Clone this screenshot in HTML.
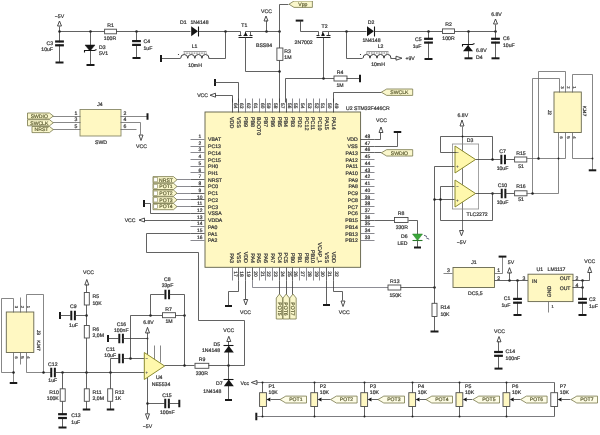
<!DOCTYPE html>
<html><head><meta charset="utf-8"><title>Schematic</title>
<style>html,body{margin:0;padding:0;background:#fff;}body{width:600px;height:435px;overflow:hidden;font-family:"Liberation Sans",sans-serif;}svg{display:block;opacity:0.999;will-change:transform;}</style>
</head><body>
<svg width="600" height="435" viewBox="0 0 600 435" font-family="'Liberation Sans', sans-serif" shape-rendering="geometricPrecision" text-rendering="geometricPrecision">
<rect width="600" height="435" fill="#fff"/>
<defs><filter id="bl" x="0" y="0" width="100%" height="100%" color-interpolation-filters="sRGB"><feGaussianBlur stdDeviation="0.35"/></filter></defs>
<g filter="url(#bl)">
<text x="59.50" y="17.85" font-size="5.15" fill="#3a3a3a" stroke="#3a3a3a" stroke-width="0.24" text-anchor="middle">−5V</text>
<polygon points="59.50,21.00 57.50,26.00 61.50,26.00" fill="#fff" stroke="#3a3a3a" stroke-width="0.9"/>
<line x1="59.50" y1="26.50" x2="59.50" y2="31.50" stroke="#3a3a3a" stroke-width="0.8"/>
<polyline points="59.50,31.50 104.50,31.50" fill="none" stroke="#3a3a3a" stroke-width="0.8"/>
<line x1="59.50" y1="31.50" x2="59.50" y2="62.50" stroke="#3a3a3a" stroke-width="0.8"/>
<rect x="55.10" y="42.40" width="8.80" height="2.00" fill="#fff"/>
<rect x="55.10" y="40.40" width="8.80" height="2.20" fill="#1a1a1a"/>
<rect x="55.10" y="44.20" width="8.80" height="2.20" fill="#1a1a1a"/>
<rect x="55.50" y="61.50" width="8.00" height="2.00" fill="#1a1a1a"/>
<text x="53.00" y="44.85" font-size="5.15" fill="#3a3a3a" stroke="#3a3a3a" stroke-width="0.24" text-anchor="end">C3</text>
<text x="53.00" y="51.05" font-size="5.15" fill="#3a3a3a" stroke="#3a3a3a" stroke-width="0.24" text-anchor="end">10uF</text>
<circle cx="59.50" cy="31.50" r="1.25" fill="#222"/>
<circle cx="90.50" cy="31.50" r="1.25" fill="#222"/>
<line x1="90.50" y1="31.50" x2="90.50" y2="64.50" stroke="#3a3a3a" stroke-width="0.8"/>
<polygon points="90.00,51.00 85.00,45.00 95.00,45.00" fill="#151515" stroke="#151515" stroke-width="0.5"/>
<polyline points="84.50,52.50 84.50,50.50 94.50,50.50 96.50,49.50" fill="none" stroke="#151515" stroke-width="1.1"/>
<rect x="86.50" y="64.00" width="8.00" height="2.00" fill="#1a1a1a"/>
<text x="99.00" y="48.65" font-size="5.15" fill="#3a3a3a" stroke="#3a3a3a" stroke-width="0.24" text-anchor="start">D3</text>
<text x="99.00" y="55.05" font-size="5.15" fill="#3a3a3a" stroke="#3a3a3a" stroke-width="0.24" text-anchor="start">5V1</text>
<rect x="104.60" y="29.20" width="11.90" height="4.60" fill="#fff" stroke="#4a4a4a" stroke-width="0.9"/>
<text x="110.50" y="26.65" font-size="5.15" fill="#3a3a3a" stroke="#3a3a3a" stroke-width="0.24" text-anchor="middle">R1</text>
<text x="110.00" y="39.85" font-size="5.15" fill="#3a3a3a" stroke="#3a3a3a" stroke-width="0.24" text-anchor="middle">100R</text>
<polyline points="116.50,31.50 190.50,31.50" fill="none" stroke="#3a3a3a" stroke-width="0.8"/>
<circle cx="136.50" cy="31.50" r="1.25" fill="#222"/>
<line x1="136.50" y1="31.50" x2="136.50" y2="58.50" stroke="#3a3a3a" stroke-width="0.8"/>
<rect x="132.10" y="42.00" width="8.80" height="2.00" fill="#fff"/>
<rect x="132.10" y="40.00" width="8.80" height="2.20" fill="#1a1a1a"/>
<rect x="132.10" y="43.80" width="8.80" height="2.20" fill="#1a1a1a"/>
<rect x="132.50" y="57.00" width="8.00" height="2.00" fill="#1a1a1a"/>
<text x="143.50" y="43.35" font-size="5.15" fill="#3a3a3a" stroke="#3a3a3a" stroke-width="0.24" text-anchor="start">C4</text>
<text x="143.50" y="49.65" font-size="5.15" fill="#3a3a3a" stroke="#3a3a3a" stroke-width="0.24" text-anchor="start">1uF</text>
<polygon points="191.20,26.20 191.20,36.20 198.00,31.20" fill="#151515"/>
<line x1="198.50" y1="26.50" x2="198.50" y2="36.50" stroke="#151515" stroke-width="1.1"/>
<text x="180.00" y="23.55" font-size="5.15" fill="#3a3a3a" stroke="#3a3a3a" stroke-width="0.24" text-anchor="start">D1</text>
<text x="190.50" y="23.55" font-size="5.15" fill="#3a3a3a" stroke="#3a3a3a" stroke-width="0.24" text-anchor="start">1N4148</text>
<polyline points="198.50,31.50 240.50,31.50" fill="none" stroke="#3a3a3a" stroke-width="0.8"/>
<circle cx="225.50" cy="31.50" r="1.25" fill="#222"/>
<polyline points="225.50,31.50 225.50,58.50 208.50,58.50" fill="none" stroke="#3a3a3a" stroke-width="0.8"/>
<path d="M180.70,58.30 a3.54,3.80 0 0 1 7.08,0 a3.54,3.80 0 0 1 7.08,0 a3.54,3.80 0 0 1 7.08,0 a3.54,3.80 0 0 1 7.08,0" fill="none" stroke="#3a3a3a" stroke-width="1"/>
<line x1="183.50" y1="51.50" x2="206.50" y2="51.50" stroke="#555" stroke-width="0.6"/>
<line x1="183.70" y1="53.10" x2="207.00" y2="53.10" stroke="#555" stroke-width="0.8" stroke-dasharray="1.6,0.9"/>
<line x1="160.50" y1="58.50" x2="180.50" y2="58.50" stroke="#3a3a3a" stroke-width="0.8"/>
<rect x="160.00" y="55.00" width="2.00" height="7.00" fill="#1a1a1a"/>
<circle cx="178.50" cy="54.50" r="0.6" fill="#222"/>
<text x="194.50" y="47.85" font-size="5.15" fill="#3a3a3a" stroke="#3a3a3a" stroke-width="0.24" text-anchor="middle">L1</text>
<text x="195.00" y="66.55" font-size="5.15" fill="#3a3a3a" stroke="#3a3a3a" stroke-width="0.24" text-anchor="middle">10mH</text>
<line x1="238.50" y1="37.50" x2="252.50" y2="37.50" stroke="#222" stroke-width="1.0"/>
<line x1="238.50" y1="35.50" x2="241.50" y2="35.50" stroke="#222" stroke-width="1.1"/>
<line x1="243.50" y1="35.50" x2="247.50" y2="35.50" stroke="#222" stroke-width="1.1"/>
<line x1="249.50" y1="35.50" x2="252.50" y2="35.50" stroke="#222" stroke-width="1.1"/>
<line x1="240.50" y1="31.50" x2="240.50" y2="35.50" stroke="#3a3a3a" stroke-width="0.8"/>
<line x1="250.50" y1="31.50" x2="250.50" y2="35.50" stroke="#3a3a3a" stroke-width="0.8"/>
<line x1="245.50" y1="31.50" x2="245.50" y2="35.50" stroke="#3a3a3a" stroke-width="0.8"/>
<polygon points="245.60,32.00 243.80,35.40 247.40,35.40" fill="#111"/>
<line x1="245.50" y1="31.50" x2="250.50" y2="31.50" stroke="#3a3a3a" stroke-width="0.8"/>
<text x="244.30" y="27.05" font-size="5.15" fill="#3a3a3a" stroke="#3a3a3a" stroke-width="0.24" text-anchor="middle">T1</text>
<text x="256.00" y="47.05" font-size="5.15" fill="#3a3a3a" stroke="#3a3a3a" stroke-width="0.24" text-anchor="start">BSS84</text>
<polyline points="250.50,31.50 279.50,31.50" fill="none" stroke="#3a3a3a" stroke-width="0.8"/>
<circle cx="266.50" cy="31.50" r="1.25" fill="#222"/>
<circle cx="279.50" cy="31.50" r="1.25" fill="#222"/>
<text x="266.50" y="12.85" font-size="5.15" fill="#3a3a3a" stroke="#3a3a3a" stroke-width="0.24" text-anchor="middle">VCC</text>
<polygon points="266.00,16.00 264.00,21.00 268.00,21.00" fill="#fff" stroke="#3a3a3a" stroke-width="0.9"/>
<line x1="266.50" y1="20.50" x2="266.50" y2="31.50" stroke="#3a3a3a" stroke-width="0.8"/>
<polyline points="288.50,4.50 279.50,4.50 279.50,102.50" fill="none" stroke="#3a3a3a" stroke-width="0.8"/>
<polygon points="289.00,4.20 294.00,1.00 312.40,1.00 312.40,7.40 294.00,7.40" fill="#faf7cc" stroke="#77774a" stroke-width="0.8"/>
<text x="302.90" y="6.00" font-size="5.1" fill="#66663a" stroke="#55552c" stroke-width="0.2" text-anchor="middle">Vpp</text>
<rect x="276.90" y="48.00" width="6.00" height="12.40" fill="#fff" stroke="#4a4a4a" stroke-width="0.9"/>
<text x="284.30" y="53.05" font-size="5.15" fill="#3a3a3a" stroke="#3a3a3a" stroke-width="0.24" text-anchor="start">R3</text>
<text x="284.30" y="59.35" font-size="5.15" fill="#3a3a3a" stroke="#3a3a3a" stroke-width="0.24" text-anchor="start">1M</text>
<polyline points="245.50,37.50 245.50,71.50 279.50,71.50" fill="none" stroke="#3a3a3a" stroke-width="0.8"/>
<circle cx="279.50" cy="71.50" r="1.25" fill="#222"/>
<rect x="214.00" y="79.00" width="2.00" height="7.00" fill="#1a1a1a"/>
<polyline points="214.50,82.50 238.50,82.50 238.50,102.50" fill="none" stroke="#3a3a3a" stroke-width="0.8"/>
<text x="208.00" y="97.45" font-size="5.15" fill="#3a3a3a" stroke="#3a3a3a" stroke-width="0.24" text-anchor="end">VCC</text>
<polygon points="210.00,95.20 215.50,93.20 215.50,97.20" fill="#fff" stroke="#3a3a3a" stroke-width="0.9"/>
<polyline points="215.50,95.50 232.50,95.50 232.50,102.50" fill="none" stroke="#3a3a3a" stroke-width="0.8"/>
<rect x="295.70" y="19.60" width="7.60" height="2.00" fill="#1a1a1a"/>
<polyline points="300.50,20.50 300.50,31.50 318.50,31.50" fill="none" stroke="#3a3a3a" stroke-width="0.8"/>
<line x1="316.50" y1="37.50" x2="330.50" y2="37.50" stroke="#222" stroke-width="1.0"/>
<line x1="316.50" y1="35.50" x2="319.50" y2="35.50" stroke="#222" stroke-width="1.1"/>
<line x1="321.50" y1="35.50" x2="324.50" y2="35.50" stroke="#222" stroke-width="1.1"/>
<line x1="326.50" y1="35.50" x2="330.50" y2="35.50" stroke="#222" stroke-width="1.1"/>
<line x1="318.50" y1="31.50" x2="318.50" y2="35.50" stroke="#3a3a3a" stroke-width="0.8"/>
<line x1="328.50" y1="31.50" x2="328.50" y2="35.50" stroke="#3a3a3a" stroke-width="0.8"/>
<line x1="322.50" y1="31.50" x2="322.50" y2="35.50" stroke="#3a3a3a" stroke-width="0.8"/>
<polygon points="323.00,32.00 321.20,35.40 324.80,35.40" fill="#111"/>
<line x1="322.50" y1="31.50" x2="328.50" y2="31.50" stroke="#3a3a3a" stroke-width="0.8"/>
<text x="324.50" y="27.65" font-size="5.15" fill="#3a3a3a" stroke="#3a3a3a" stroke-width="0.24" text-anchor="middle">T2</text>
<text x="294.60" y="43.85" font-size="5.15" fill="#3a3a3a" stroke="#3a3a3a" stroke-width="0.24" text-anchor="start">2N7002</text>
<polyline points="328.50,31.50 366.50,31.50" fill="none" stroke="#3a3a3a" stroke-width="0.8"/>
<circle cx="346.50" cy="31.50" r="1.25" fill="#222"/>
<polygon points="367.00,26.20 367.00,36.20 374.00,31.20" fill="#151515"/>
<line x1="374.50" y1="26.50" x2="374.50" y2="36.50" stroke="#151515" stroke-width="1.1"/>
<text x="371.00" y="23.85" font-size="5.15" fill="#3a3a3a" stroke="#3a3a3a" stroke-width="0.24" text-anchor="middle">D2</text>
<text x="362.50" y="42.35" font-size="5.15" fill="#3a3a3a" stroke="#3a3a3a" stroke-width="0.24" text-anchor="start">1N4148</text>
<polyline points="374.50,31.50 442.50,31.50" fill="none" stroke="#3a3a3a" stroke-width="0.8"/>
<circle cx="428.50" cy="31.50" r="1.25" fill="#222"/>
<polyline points="346.50,31.50 346.50,58.50 362.50,58.50" fill="none" stroke="#3a3a3a" stroke-width="0.8"/>
<path d="M363.00,58.20 a3.50,3.80 0 0 1 7.00,0 a3.50,3.80 0 0 1 7.00,0 a3.50,3.80 0 0 1 7.00,0 a3.50,3.80 0 0 1 7.00,0" fill="none" stroke="#3a3a3a" stroke-width="1"/>
<line x1="366.50" y1="51.50" x2="388.50" y2="51.50" stroke="#555" stroke-width="0.6"/>
<line x1="366.00" y1="53.00" x2="389.00" y2="53.00" stroke="#555" stroke-width="0.8" stroke-dasharray="1.6,0.9"/>
<line x1="390.50" y1="58.50" x2="396.50" y2="58.50" stroke="#3a3a3a" stroke-width="0.8"/>
<polygon points="402.00,58.20 396.00,56.20 396.00,60.20" fill="#fff" stroke="#3a3a3a" stroke-width="0.9"/>
<text x="405.50" y="60.05" font-size="5.15" fill="#3a3a3a" stroke="#3a3a3a" stroke-width="0.24" text-anchor="start">+9V</text>
<circle cx="360.50" cy="54.50" r="0.6" fill="#222"/>
<text x="380.50" y="47.85" font-size="5.15" fill="#3a3a3a" stroke="#3a3a3a" stroke-width="0.24" text-anchor="middle">L2</text>
<text x="378.00" y="66.05" font-size="5.15" fill="#3a3a3a" stroke="#3a3a3a" stroke-width="0.24" text-anchor="middle">10mH</text>
<line x1="428.50" y1="31.50" x2="428.50" y2="58.50" stroke="#3a3a3a" stroke-width="0.8"/>
<rect x="424.10" y="39.70" width="8.80" height="2.00" fill="#fff"/>
<rect x="424.10" y="37.70" width="8.80" height="2.20" fill="#1a1a1a"/>
<rect x="424.10" y="41.50" width="8.80" height="2.20" fill="#1a1a1a"/>
<rect x="424.50" y="58.00" width="8.00" height="2.00" fill="#1a1a1a"/>
<text x="421.50" y="40.85" font-size="5.15" fill="#3a3a3a" stroke="#3a3a3a" stroke-width="0.24" text-anchor="end">C5</text>
<text x="421.50" y="47.65" font-size="5.15" fill="#3a3a3a" stroke="#3a3a3a" stroke-width="0.24" text-anchor="end">1uF</text>
<rect x="442.50" y="28.90" width="12.00" height="4.60" fill="#fff" stroke="#4a4a4a" stroke-width="0.9"/>
<text x="448.50" y="26.15" font-size="5.15" fill="#3a3a3a" stroke="#3a3a3a" stroke-width="0.24" text-anchor="middle">R2</text>
<text x="448.50" y="39.85" font-size="5.15" fill="#3a3a3a" stroke="#3a3a3a" stroke-width="0.24" text-anchor="middle">100R</text>
<polyline points="454.50,31.50 495.50,31.50" fill="none" stroke="#3a3a3a" stroke-width="0.8"/>
<circle cx="468.50" cy="31.50" r="1.25" fill="#222"/>
<circle cx="495.50" cy="31.50" r="1.25" fill="#222"/>
<line x1="468.50" y1="31.50" x2="468.50" y2="58.50" stroke="#3a3a3a" stroke-width="0.8"/>
<polygon points="468.00,45.00 463.00,51.20 473.00,51.20" fill="#151515"/>
<polyline points="462.50,46.50 462.50,44.50 472.50,44.50 474.50,43.50" fill="none" stroke="#151515" stroke-width="1.1"/>
<rect x="464.50" y="57.30" width="8.00" height="2.00" fill="#1a1a1a"/>
<text x="476.00" y="51.85" font-size="5.15" fill="#3a3a3a" stroke="#3a3a3a" stroke-width="0.24" text-anchor="start">6.8V</text>
<text x="476.00" y="58.85" font-size="5.15" fill="#3a3a3a" stroke="#3a3a3a" stroke-width="0.24" text-anchor="start">D4</text>
<text x="496.50" y="15.85" font-size="5.15" fill="#3a3a3a" stroke="#3a3a3a" stroke-width="0.24" text-anchor="middle">6.8V</text>
<polygon points="495.50,19.00 493.50,24.00 497.50,24.00" fill="#fff" stroke="#3a3a3a" stroke-width="0.9"/>
<line x1="495.50" y1="24.50" x2="495.50" y2="31.50" stroke="#3a3a3a" stroke-width="0.8"/>
<line x1="495.50" y1="31.50" x2="495.50" y2="58.50" stroke="#3a3a3a" stroke-width="0.8"/>
<rect x="491.10" y="39.70" width="8.80" height="2.00" fill="#fff"/>
<rect x="491.10" y="37.70" width="8.80" height="2.20" fill="#1a1a1a"/>
<rect x="491.10" y="41.50" width="8.80" height="2.20" fill="#1a1a1a"/>
<rect x="491.50" y="57.30" width="8.00" height="2.00" fill="#1a1a1a"/>
<text x="503.00" y="40.05" font-size="5.15" fill="#3a3a3a" stroke="#3a3a3a" stroke-width="0.24" text-anchor="start">C6</text>
<text x="503.00" y="46.85" font-size="5.15" fill="#3a3a3a" stroke="#3a3a3a" stroke-width="0.24" text-anchor="start">10uF</text>
<polyline points="285.50,102.50 285.50,78.50 334.50,78.50" fill="none" stroke="#3a3a3a" stroke-width="0.8"/>
<circle cx="323.50" cy="78.50" r="1.25" fill="#222"/>
<line x1="323.50" y1="37.50" x2="323.50" y2="78.50" stroke="#3a3a3a" stroke-width="0.8"/>
<rect x="334.00" y="76.00" width="13.00" height="5.00" fill="#fff" stroke="#4a4a4a" stroke-width="0.9"/>
<line x1="346.50" y1="78.50" x2="360.50" y2="78.50" stroke="#3a3a3a" stroke-width="0.8"/>
<rect x="359.00" y="74.75" width="2.00" height="7.50" fill="#1a1a1a"/>
<text x="340.00" y="73.85" font-size="5.15" fill="#3a3a3a" stroke="#3a3a3a" stroke-width="0.24" text-anchor="middle">R4</text>
<text x="340.00" y="86.85" font-size="5.15" fill="#3a3a3a" stroke="#3a3a3a" stroke-width="0.24" text-anchor="middle">1M</text>
<polyline points="333.50,102.50 333.50,92.50 381.50,92.50" fill="none" stroke="#3a3a3a" stroke-width="0.8"/>
<polygon points="381.30,92.20 386.70,89.00 412.70,89.00 412.70,95.40 386.70,95.40" fill="#faf7cc" stroke="#77774a" stroke-width="0.8"/>
<text x="399.40" y="94.00" font-size="5.1" fill="#66663a" stroke="#55552c" stroke-width="0.2" text-anchor="middle">SWCLK</text>
<text x="100.00" y="105.85" font-size="5.15" fill="#3a3a3a" stroke="#3a3a3a" stroke-width="0.24" text-anchor="middle">J4</text>
<text x="101.00" y="143.85" font-size="5.15" fill="#3a3a3a" stroke="#3a3a3a" stroke-width="0.24" text-anchor="middle">SWD</text>
<rect x="80.00" y="109.50" width="41.00" height="26.50" fill="#fff8c2" stroke="#888868" stroke-width="0.9"/>
<line x1="52.50" y1="116.50" x2="80.50" y2="116.50" stroke="#6a6a6a" stroke-width="0.8"/>
<text x="76.00" y="114.65" font-size="5.15" fill="#3a3a3a" stroke="#3a3a3a" stroke-width="0.24" text-anchor="middle">1</text>
<text x="123.50" y="114.65" font-size="5.15" fill="#3a3a3a" stroke="#3a3a3a" stroke-width="0.24" text-anchor="start">2</text>
<line x1="52.50" y1="122.50" x2="80.50" y2="122.50" stroke="#6a6a6a" stroke-width="0.8"/>
<text x="76.00" y="121.45" font-size="5.15" fill="#3a3a3a" stroke="#3a3a3a" stroke-width="0.24" text-anchor="middle">3</text>
<text x="123.50" y="121.45" font-size="5.15" fill="#3a3a3a" stroke="#3a3a3a" stroke-width="0.24" text-anchor="start">4</text>
<line x1="52.50" y1="129.50" x2="80.50" y2="129.50" stroke="#6a6a6a" stroke-width="0.8"/>
<text x="76.00" y="128.15" font-size="5.15" fill="#3a3a3a" stroke="#3a3a3a" stroke-width="0.24" text-anchor="middle">5</text>
<text x="123.50" y="128.15" font-size="5.15" fill="#3a3a3a" stroke="#3a3a3a" stroke-width="0.24" text-anchor="start">6</text>
<polygon points="27.50,113.00 49.50,113.00 53.30,116.00 49.50,119.00 27.50,119.00" fill="#faf7cc" stroke="#77774a" stroke-width="0.8"/>
<text x="39.30" y="117.80" font-size="5.1" fill="#66663a" stroke="#55552c" stroke-width="0.2" text-anchor="middle">SWDIO</text>
<polygon points="27.50,119.70 49.50,119.70 53.30,122.75 49.50,125.80 27.50,125.80" fill="#faf7cc" stroke="#77774a" stroke-width="0.8"/>
<text x="39.30" y="124.55" font-size="5.1" fill="#66663a" stroke="#55552c" stroke-width="0.2" text-anchor="middle">SWCLK</text>
<polygon points="32.00,126.50 49.50,126.50 53.30,129.55 49.50,132.60 32.00,132.60" fill="#faf7cc" stroke="#77774a" stroke-width="0.8"/>
<text x="41.55" y="131.35" font-size="5.1" fill="#66663a" stroke="#55552c" stroke-width="0.2" text-anchor="middle">NRST</text>
<line x1="120.50" y1="116.50" x2="147.50" y2="116.50" stroke="#686868" stroke-width="0.8"/>
<rect x="146.50" y="113.25" width="2.00" height="6.50" fill="#1a1a1a"/>
<polyline points="120.50,122.50 140.50,122.50 140.50,134.50" fill="none" stroke="#686868" stroke-width="0.8"/>
<polygon points="141.00,140.50 139.00,135.00 143.00,135.00" fill="#fff" stroke="#3a3a3a" stroke-width="0.9"/>
<text x="141.50" y="147.85" font-size="5.15" fill="#3a3a3a" stroke="#3a3a3a" stroke-width="0.24" text-anchor="middle">VCC</text>
<line x1="120.50" y1="129.50" x2="136.50" y2="129.50" stroke="#686868" stroke-width="0.8"/>
<rect x="205.00" y="112.00" width="155.60" height="155.30" fill="#fff8c2" stroke="#5e5e48" stroke-width="0.9"/>
<text x="346.00" y="109.65" font-size="5.15" fill="#3a3a3a" stroke="#3a3a3a" stroke-width="0.24" text-anchor="start">U2 STM32F446CR</text>
<line x1="190.50" y1="139.50" x2="204.50" y2="139.50" stroke="#6c6c74" stroke-width="0.8"/>
<text x="199.80" y="138.05" font-size="4.9" fill="#3a3a3a" stroke="#3a3a3a" stroke-width="0.24" text-anchor="middle">1</text>
<text x="208.00" y="141.45" font-size="5.15" fill="#3a3a3a" stroke="#3a3a3a" stroke-width="0.24" text-anchor="start">VBAT</text>
<line x1="360.50" y1="139.50" x2="374.50" y2="139.50" stroke="#3a3a3a" stroke-width="0.8"/>
<text x="367.50" y="138.05" font-size="4.9" fill="#3a3a3a" stroke="#3a3a3a" stroke-width="0.24" text-anchor="middle">48</text>
<text x="357.80" y="141.45" font-size="5.15" fill="#3a3a3a" stroke="#3a3a3a" stroke-width="0.24" text-anchor="end">VDD</text>
<line x1="232.50" y1="98.50" x2="232.50" y2="112.50" stroke="#3a3a3a" stroke-width="0.8"/>
<text x="233.50" y="105.70" font-size="4.9" fill="#444" stroke="#444" stroke-width="0.24" text-anchor="middle" transform="rotate(90 233.50 105.70)">64</text>
<text x="230.25" y="117.00" font-size="5.35" fill="#3a3a3a" stroke="#3a3a3a" stroke-width="0.24" text-anchor="start" transform="rotate(90 230.25 117.00)">VDD</text>
<line x1="232.50" y1="267.50" x2="232.50" y2="280.50" stroke="#6c6c74" stroke-width="0.8"/>
<text x="233.50" y="274.00" font-size="4.9" fill="#444" stroke="#444" stroke-width="0.24" text-anchor="middle" transform="rotate(90 233.50 274.00)">17</text>
<text x="230.25" y="263.00" font-size="5.35" fill="#3a3a3a" stroke="#3a3a3a" stroke-width="0.24" text-anchor="end" transform="rotate(90 230.25 263.00)">PA3</text>
<line x1="190.50" y1="146.50" x2="204.50" y2="146.50" stroke="#6c6c74" stroke-width="0.8"/>
<text x="199.80" y="144.77" font-size="4.9" fill="#3a3a3a" stroke="#3a3a3a" stroke-width="0.24" text-anchor="middle">2</text>
<text x="208.00" y="148.17" font-size="5.15" fill="#3a3a3a" stroke="#3a3a3a" stroke-width="0.24" text-anchor="start">PC13</text>
<line x1="360.50" y1="146.50" x2="374.50" y2="146.50" stroke="#3a3a3a" stroke-width="0.8"/>
<text x="367.50" y="144.77" font-size="4.9" fill="#3a3a3a" stroke="#3a3a3a" stroke-width="0.24" text-anchor="middle">47</text>
<text x="357.80" y="148.17" font-size="5.15" fill="#3a3a3a" stroke="#3a3a3a" stroke-width="0.24" text-anchor="end">VSS</text>
<line x1="238.50" y1="98.50" x2="238.50" y2="112.50" stroke="#3a3a3a" stroke-width="0.8"/>
<text x="240.25" y="105.70" font-size="4.9" fill="#444" stroke="#444" stroke-width="0.24" text-anchor="middle" transform="rotate(90 240.25 105.70)">63</text>
<text x="237.00" y="117.00" font-size="5.35" fill="#3a3a3a" stroke="#3a3a3a" stroke-width="0.24" text-anchor="start" transform="rotate(90 237.00 117.00)">VSS</text>
<line x1="238.50" y1="267.50" x2="238.50" y2="280.50" stroke="#3a3a3a" stroke-width="0.8"/>
<text x="240.25" y="274.00" font-size="4.9" fill="#444" stroke="#444" stroke-width="0.24" text-anchor="middle" transform="rotate(90 240.25 274.00)">18</text>
<text x="237.00" y="263.00" font-size="5.35" fill="#3a3a3a" stroke="#3a3a3a" stroke-width="0.24" text-anchor="end" transform="rotate(90 237.00 263.00)">VSS</text>
<line x1="190.50" y1="152.50" x2="204.50" y2="152.50" stroke="#6c6c74" stroke-width="0.8"/>
<text x="199.80" y="151.49" font-size="4.9" fill="#3a3a3a" stroke="#3a3a3a" stroke-width="0.24" text-anchor="middle">3</text>
<text x="208.00" y="154.89" font-size="5.15" fill="#3a3a3a" stroke="#3a3a3a" stroke-width="0.24" text-anchor="start">PC14</text>
<line x1="360.50" y1="152.50" x2="374.50" y2="152.50" stroke="#3a3a3a" stroke-width="0.8"/>
<text x="367.50" y="151.49" font-size="4.9" fill="#3a3a3a" stroke="#3a3a3a" stroke-width="0.24" text-anchor="middle">46</text>
<text x="357.80" y="154.89" font-size="5.15" fill="#3a3a3a" stroke="#3a3a3a" stroke-width="0.24" text-anchor="end">PA13</text>
<line x1="245.50" y1="98.50" x2="245.50" y2="112.50" stroke="#6c6c74" stroke-width="0.8"/>
<text x="247.01" y="105.70" font-size="4.9" fill="#444" stroke="#444" stroke-width="0.24" text-anchor="middle" transform="rotate(90 247.01 105.70)">62</text>
<text x="243.76" y="117.00" font-size="5.35" fill="#3a3a3a" stroke="#3a3a3a" stroke-width="0.24" text-anchor="start" transform="rotate(90 243.76 117.00)">PB9</text>
<line x1="245.50" y1="267.50" x2="245.50" y2="280.50" stroke="#3a3a3a" stroke-width="0.8"/>
<text x="247.01" y="274.00" font-size="4.9" fill="#444" stroke="#444" stroke-width="0.24" text-anchor="middle" transform="rotate(90 247.01 274.00)">19</text>
<text x="243.76" y="263.00" font-size="5.35" fill="#3a3a3a" stroke="#3a3a3a" stroke-width="0.24" text-anchor="end" transform="rotate(90 243.76 263.00)">VDD</text>
<line x1="190.50" y1="159.50" x2="204.50" y2="159.50" stroke="#6c6c74" stroke-width="0.8"/>
<text x="199.80" y="158.21" font-size="4.9" fill="#3a3a3a" stroke="#3a3a3a" stroke-width="0.24" text-anchor="middle">4</text>
<text x="208.00" y="161.61" font-size="5.15" fill="#3a3a3a" stroke="#3a3a3a" stroke-width="0.24" text-anchor="start">PC15</text>
<line x1="360.50" y1="159.50" x2="374.50" y2="159.50" stroke="#6c6c74" stroke-width="0.8"/>
<text x="367.50" y="158.21" font-size="4.9" fill="#3a3a3a" stroke="#3a3a3a" stroke-width="0.24" text-anchor="middle">45</text>
<text x="357.80" y="161.61" font-size="5.15" fill="#3a3a3a" stroke="#3a3a3a" stroke-width="0.24" text-anchor="end">PA12</text>
<line x1="252.50" y1="98.50" x2="252.50" y2="112.50" stroke="#6c6c74" stroke-width="0.8"/>
<text x="253.76" y="105.70" font-size="4.9" fill="#444" stroke="#444" stroke-width="0.24" text-anchor="middle" transform="rotate(90 253.76 105.70)">61</text>
<text x="250.51" y="117.00" font-size="5.35" fill="#3a3a3a" stroke="#3a3a3a" stroke-width="0.24" text-anchor="start" transform="rotate(90 250.51 117.00)">PB8</text>
<line x1="252.50" y1="267.50" x2="252.50" y2="280.50" stroke="#3a3a3a" stroke-width="0.8"/>
<text x="253.76" y="274.00" font-size="4.9" fill="#444" stroke="#444" stroke-width="0.24" text-anchor="middle" transform="rotate(90 253.76 274.00)">20</text>
<text x="250.51" y="263.00" font-size="5.35" fill="#3a3a3a" stroke="#3a3a3a" stroke-width="0.24" text-anchor="end" transform="rotate(90 250.51 263.00)">PA4</text>
<line x1="190.50" y1="166.50" x2="204.50" y2="166.50" stroke="#6c6c74" stroke-width="0.8"/>
<text x="199.80" y="164.93" font-size="4.9" fill="#3a3a3a" stroke="#3a3a3a" stroke-width="0.24" text-anchor="middle">5</text>
<text x="208.00" y="168.33" font-size="5.15" fill="#3a3a3a" stroke="#3a3a3a" stroke-width="0.24" text-anchor="start">PH0</text>
<line x1="360.50" y1="166.50" x2="374.50" y2="166.50" stroke="#6c6c74" stroke-width="0.8"/>
<text x="367.50" y="164.93" font-size="4.9" fill="#3a3a3a" stroke="#3a3a3a" stroke-width="0.24" text-anchor="middle">44</text>
<text x="357.80" y="168.33" font-size="5.15" fill="#3a3a3a" stroke="#3a3a3a" stroke-width="0.24" text-anchor="end">PA11</text>
<line x1="259.50" y1="98.50" x2="259.50" y2="112.50" stroke="#6c6c74" stroke-width="0.8"/>
<text x="260.51" y="105.70" font-size="4.9" fill="#444" stroke="#444" stroke-width="0.24" text-anchor="middle" transform="rotate(90 260.51 105.70)">60</text>
<text x="257.26" y="117.00" font-size="5.35" fill="#3a3a3a" stroke="#3a3a3a" stroke-width="0.24" text-anchor="start" transform="rotate(90 257.26 117.00)">BOOT0</text>
<line x1="259.50" y1="267.50" x2="259.50" y2="280.50" stroke="#6c6c74" stroke-width="0.8"/>
<text x="260.51" y="274.00" font-size="4.9" fill="#444" stroke="#444" stroke-width="0.24" text-anchor="middle" transform="rotate(90 260.51 274.00)">21</text>
<text x="257.26" y="263.00" font-size="5.35" fill="#3a3a3a" stroke="#3a3a3a" stroke-width="0.24" text-anchor="end" transform="rotate(90 257.26 263.00)">PA5</text>
<line x1="190.50" y1="172.50" x2="204.50" y2="172.50" stroke="#6c6c74" stroke-width="0.8"/>
<text x="199.80" y="171.65" font-size="4.9" fill="#3a3a3a" stroke="#3a3a3a" stroke-width="0.24" text-anchor="middle">6</text>
<text x="208.00" y="175.05" font-size="5.15" fill="#3a3a3a" stroke="#3a3a3a" stroke-width="0.24" text-anchor="start">PH1</text>
<line x1="360.50" y1="172.50" x2="374.50" y2="172.50" stroke="#6c6c74" stroke-width="0.8"/>
<text x="367.50" y="171.65" font-size="4.9" fill="#3a3a3a" stroke="#3a3a3a" stroke-width="0.24" text-anchor="middle">43</text>
<text x="357.80" y="175.05" font-size="5.15" fill="#3a3a3a" stroke="#3a3a3a" stroke-width="0.24" text-anchor="end">PA10</text>
<line x1="265.50" y1="98.50" x2="265.50" y2="112.50" stroke="#6c6c74" stroke-width="0.8"/>
<text x="267.26" y="105.70" font-size="4.9" fill="#444" stroke="#444" stroke-width="0.24" text-anchor="middle" transform="rotate(90 267.26 105.70)">59</text>
<text x="264.01" y="117.00" font-size="5.35" fill="#3a3a3a" stroke="#3a3a3a" stroke-width="0.24" text-anchor="start" transform="rotate(90 264.01 117.00)">PB7</text>
<line x1="265.50" y1="267.50" x2="265.50" y2="280.50" stroke="#6c6c74" stroke-width="0.8"/>
<text x="267.26" y="274.00" font-size="4.9" fill="#444" stroke="#444" stroke-width="0.24" text-anchor="middle" transform="rotate(90 267.26 274.00)">22</text>
<text x="264.01" y="263.00" font-size="5.35" fill="#3a3a3a" stroke="#3a3a3a" stroke-width="0.24" text-anchor="end" transform="rotate(90 264.01 263.00)">PA6</text>
<line x1="190.50" y1="179.50" x2="204.50" y2="179.50" stroke="#3a3a3a" stroke-width="0.8"/>
<text x="199.80" y="178.37" font-size="4.9" fill="#3a3a3a" stroke="#3a3a3a" stroke-width="0.24" text-anchor="middle">7</text>
<text x="208.00" y="181.77" font-size="5.15" fill="#3a3a3a" stroke="#3a3a3a" stroke-width="0.24" text-anchor="start">NRST</text>
<line x1="360.50" y1="179.50" x2="374.50" y2="179.50" stroke="#6c6c74" stroke-width="0.8"/>
<text x="367.50" y="178.37" font-size="4.9" fill="#3a3a3a" stroke="#3a3a3a" stroke-width="0.24" text-anchor="middle">42</text>
<text x="357.80" y="181.77" font-size="5.15" fill="#3a3a3a" stroke="#3a3a3a" stroke-width="0.24" text-anchor="end">PA9</text>
<line x1="272.50" y1="98.50" x2="272.50" y2="112.50" stroke="#6c6c74" stroke-width="0.8"/>
<text x="274.02" y="105.70" font-size="4.9" fill="#444" stroke="#444" stroke-width="0.24" text-anchor="middle" transform="rotate(90 274.02 105.70)">58</text>
<text x="270.77" y="117.00" font-size="5.35" fill="#3a3a3a" stroke="#3a3a3a" stroke-width="0.24" text-anchor="start" transform="rotate(90 270.77 117.00)">PB6</text>
<line x1="272.50" y1="267.50" x2="272.50" y2="280.50" stroke="#6c6c74" stroke-width="0.8"/>
<text x="274.02" y="274.00" font-size="4.9" fill="#444" stroke="#444" stroke-width="0.24" text-anchor="middle" transform="rotate(90 274.02 274.00)">23</text>
<text x="270.77" y="263.00" font-size="5.35" fill="#3a3a3a" stroke="#3a3a3a" stroke-width="0.24" text-anchor="end" transform="rotate(90 270.77 263.00)">PA7</text>
<line x1="190.50" y1="186.50" x2="204.50" y2="186.50" stroke="#3a3a3a" stroke-width="0.8"/>
<text x="199.80" y="185.09" font-size="4.9" fill="#3a3a3a" stroke="#3a3a3a" stroke-width="0.24" text-anchor="middle">8</text>
<text x="208.00" y="188.49" font-size="5.15" fill="#3a3a3a" stroke="#3a3a3a" stroke-width="0.24" text-anchor="start">PC0</text>
<line x1="360.50" y1="186.50" x2="374.50" y2="186.50" stroke="#6c6c74" stroke-width="0.8"/>
<text x="367.50" y="185.09" font-size="4.9" fill="#3a3a3a" stroke="#3a3a3a" stroke-width="0.24" text-anchor="middle">41</text>
<text x="357.80" y="188.49" font-size="5.15" fill="#3a3a3a" stroke="#3a3a3a" stroke-width="0.24" text-anchor="end">PA8</text>
<line x1="279.50" y1="98.50" x2="279.50" y2="112.50" stroke="#3a3a3a" stroke-width="0.8"/>
<text x="280.77" y="105.70" font-size="4.9" fill="#444" stroke="#444" stroke-width="0.24" text-anchor="middle" transform="rotate(90 280.77 105.70)">57</text>
<text x="277.52" y="117.00" font-size="5.35" fill="#3a3a3a" stroke="#3a3a3a" stroke-width="0.24" text-anchor="start" transform="rotate(90 277.52 117.00)">PB5</text>
<line x1="279.50" y1="267.50" x2="279.50" y2="280.50" stroke="#3a3a3a" stroke-width="0.8"/>
<text x="280.77" y="274.00" font-size="4.9" fill="#444" stroke="#444" stroke-width="0.24" text-anchor="middle" transform="rotate(90 280.77 274.00)">24</text>
<text x="277.52" y="263.00" font-size="5.35" fill="#3a3a3a" stroke="#3a3a3a" stroke-width="0.24" text-anchor="end" transform="rotate(90 277.52 263.00)">PC4</text>
<line x1="190.50" y1="193.50" x2="204.50" y2="193.50" stroke="#3a3a3a" stroke-width="0.8"/>
<text x="199.80" y="191.81" font-size="4.9" fill="#3a3a3a" stroke="#3a3a3a" stroke-width="0.24" text-anchor="middle">9</text>
<text x="208.00" y="195.21" font-size="5.15" fill="#3a3a3a" stroke="#3a3a3a" stroke-width="0.24" text-anchor="start">PC1</text>
<line x1="360.50" y1="193.50" x2="374.50" y2="193.50" stroke="#6c6c74" stroke-width="0.8"/>
<text x="367.50" y="191.81" font-size="4.9" fill="#3a3a3a" stroke="#3a3a3a" stroke-width="0.24" text-anchor="middle">40</text>
<text x="357.80" y="195.21" font-size="5.15" fill="#3a3a3a" stroke="#3a3a3a" stroke-width="0.24" text-anchor="end">PC9</text>
<line x1="286.50" y1="98.50" x2="286.50" y2="112.50" stroke="#3a3a3a" stroke-width="0.8"/>
<text x="287.52" y="105.70" font-size="4.9" fill="#444" stroke="#444" stroke-width="0.24" text-anchor="middle" transform="rotate(90 287.52 105.70)">56</text>
<text x="284.27" y="117.00" font-size="5.35" fill="#3a3a3a" stroke="#3a3a3a" stroke-width="0.24" text-anchor="start" transform="rotate(90 284.27 117.00)">PB4</text>
<line x1="286.50" y1="267.50" x2="286.50" y2="280.50" stroke="#3a3a3a" stroke-width="0.8"/>
<text x="287.52" y="274.00" font-size="4.9" fill="#444" stroke="#444" stroke-width="0.24" text-anchor="middle" transform="rotate(90 287.52 274.00)">25</text>
<text x="284.27" y="263.00" font-size="5.35" fill="#3a3a3a" stroke="#3a3a3a" stroke-width="0.24" text-anchor="end" transform="rotate(90 284.27 263.00)">PC5</text>
<line x1="190.50" y1="199.50" x2="204.50" y2="199.50" stroke="#3a3a3a" stroke-width="0.8"/>
<text x="199.80" y="198.53" font-size="4.9" fill="#3a3a3a" stroke="#3a3a3a" stroke-width="0.24" text-anchor="middle">10</text>
<text x="208.00" y="201.93" font-size="5.15" fill="#3a3a3a" stroke="#3a3a3a" stroke-width="0.24" text-anchor="start">PC2</text>
<line x1="360.50" y1="199.50" x2="374.50" y2="199.50" stroke="#6c6c74" stroke-width="0.8"/>
<text x="367.50" y="198.53" font-size="4.9" fill="#3a3a3a" stroke="#3a3a3a" stroke-width="0.24" text-anchor="middle">39</text>
<text x="357.80" y="201.93" font-size="5.15" fill="#3a3a3a" stroke="#3a3a3a" stroke-width="0.24" text-anchor="end">PC8</text>
<line x1="292.50" y1="98.50" x2="292.50" y2="112.50" stroke="#6c6c74" stroke-width="0.8"/>
<text x="294.28" y="105.70" font-size="4.9" fill="#444" stroke="#444" stroke-width="0.24" text-anchor="middle" transform="rotate(90 294.28 105.70)">55</text>
<text x="291.03" y="117.00" font-size="5.35" fill="#3a3a3a" stroke="#3a3a3a" stroke-width="0.24" text-anchor="start" transform="rotate(90 291.03 117.00)">PB3</text>
<line x1="292.50" y1="267.50" x2="292.50" y2="280.50" stroke="#3a3a3a" stroke-width="0.8"/>
<text x="294.28" y="274.00" font-size="4.9" fill="#444" stroke="#444" stroke-width="0.24" text-anchor="middle" transform="rotate(90 294.28 274.00)">26</text>
<text x="291.03" y="263.00" font-size="5.35" fill="#3a3a3a" stroke="#3a3a3a" stroke-width="0.24" text-anchor="end" transform="rotate(90 291.03 263.00)">PB0</text>
<line x1="190.50" y1="206.50" x2="204.50" y2="206.50" stroke="#3a3a3a" stroke-width="0.8"/>
<text x="199.80" y="205.25" font-size="4.9" fill="#3a3a3a" stroke="#3a3a3a" stroke-width="0.24" text-anchor="middle">11</text>
<text x="208.00" y="208.65" font-size="5.15" fill="#3a3a3a" stroke="#3a3a3a" stroke-width="0.24" text-anchor="start">PC3</text>
<line x1="360.50" y1="206.50" x2="374.50" y2="206.50" stroke="#6c6c74" stroke-width="0.8"/>
<text x="367.50" y="205.25" font-size="4.9" fill="#3a3a3a" stroke="#3a3a3a" stroke-width="0.24" text-anchor="middle">38</text>
<text x="357.80" y="208.65" font-size="5.15" fill="#3a3a3a" stroke="#3a3a3a" stroke-width="0.24" text-anchor="end">PC7</text>
<line x1="299.50" y1="98.50" x2="299.50" y2="112.50" stroke="#6c6c74" stroke-width="0.8"/>
<text x="301.03" y="105.70" font-size="4.9" fill="#444" stroke="#444" stroke-width="0.24" text-anchor="middle" transform="rotate(90 301.03 105.70)">54</text>
<text x="297.78" y="117.00" font-size="5.35" fill="#3a3a3a" stroke="#3a3a3a" stroke-width="0.24" text-anchor="start" transform="rotate(90 297.78 117.00)">PD2</text>
<line x1="299.50" y1="267.50" x2="299.50" y2="280.50" stroke="#6c6c74" stroke-width="0.8"/>
<text x="301.03" y="274.00" font-size="4.9" fill="#444" stroke="#444" stroke-width="0.24" text-anchor="middle" transform="rotate(90 301.03 274.00)">27</text>
<text x="297.78" y="263.00" font-size="5.35" fill="#3a3a3a" stroke="#3a3a3a" stroke-width="0.24" text-anchor="end" transform="rotate(90 297.78 263.00)">PB1</text>
<line x1="190.50" y1="213.50" x2="204.50" y2="213.50" stroke="#3a3a3a" stroke-width="0.8"/>
<text x="199.80" y="211.97" font-size="4.9" fill="#3a3a3a" stroke="#3a3a3a" stroke-width="0.24" text-anchor="middle">12</text>
<text x="208.00" y="215.37" font-size="5.15" fill="#3a3a3a" stroke="#3a3a3a" stroke-width="0.24" text-anchor="start">VSSA</text>
<line x1="360.50" y1="213.50" x2="374.50" y2="213.50" stroke="#6c6c74" stroke-width="0.8"/>
<text x="367.50" y="211.97" font-size="4.9" fill="#3a3a3a" stroke="#3a3a3a" stroke-width="0.24" text-anchor="middle">37</text>
<text x="357.80" y="215.37" font-size="5.15" fill="#3a3a3a" stroke="#3a3a3a" stroke-width="0.24" text-anchor="end">PC6</text>
<line x1="306.50" y1="98.50" x2="306.50" y2="112.50" stroke="#6c6c74" stroke-width="0.8"/>
<text x="307.78" y="105.70" font-size="4.9" fill="#444" stroke="#444" stroke-width="0.24" text-anchor="middle" transform="rotate(90 307.78 105.70)">53</text>
<text x="304.53" y="117.00" font-size="5.35" fill="#3a3a3a" stroke="#3a3a3a" stroke-width="0.24" text-anchor="start" transform="rotate(90 304.53 117.00)">PC12</text>
<line x1="306.50" y1="267.50" x2="306.50" y2="280.50" stroke="#6c6c74" stroke-width="0.8"/>
<text x="307.78" y="274.00" font-size="4.9" fill="#444" stroke="#444" stroke-width="0.24" text-anchor="middle" transform="rotate(90 307.78 274.00)">28</text>
<text x="304.53" y="263.00" font-size="5.35" fill="#3a3a3a" stroke="#3a3a3a" stroke-width="0.24" text-anchor="end" transform="rotate(90 304.53 263.00)">PB2</text>
<line x1="190.50" y1="220.50" x2="204.50" y2="220.50" stroke="#3a3a3a" stroke-width="0.8"/>
<text x="199.80" y="218.69" font-size="4.9" fill="#3a3a3a" stroke="#3a3a3a" stroke-width="0.24" text-anchor="middle">13</text>
<text x="208.00" y="222.09" font-size="5.15" fill="#3a3a3a" stroke="#3a3a3a" stroke-width="0.24" text-anchor="start">VDDA</text>
<line x1="360.50" y1="220.50" x2="374.50" y2="220.50" stroke="#3a3a3a" stroke-width="0.8"/>
<text x="367.50" y="218.69" font-size="4.9" fill="#3a3a3a" stroke="#3a3a3a" stroke-width="0.24" text-anchor="middle">36</text>
<text x="357.80" y="222.09" font-size="5.15" fill="#3a3a3a" stroke="#3a3a3a" stroke-width="0.24" text-anchor="end">PB15</text>
<line x1="313.50" y1="98.50" x2="313.50" y2="112.50" stroke="#6c6c74" stroke-width="0.8"/>
<text x="314.54" y="105.70" font-size="4.9" fill="#444" stroke="#444" stroke-width="0.24" text-anchor="middle" transform="rotate(90 314.54 105.70)">52</text>
<text x="311.29" y="117.00" font-size="5.35" fill="#3a3a3a" stroke="#3a3a3a" stroke-width="0.24" text-anchor="start" transform="rotate(90 311.29 117.00)">PC11</text>
<line x1="313.50" y1="267.50" x2="313.50" y2="280.50" stroke="#6c6c74" stroke-width="0.8"/>
<text x="314.54" y="274.00" font-size="4.9" fill="#444" stroke="#444" stroke-width="0.24" text-anchor="middle" transform="rotate(90 314.54 274.00)">29</text>
<text x="311.29" y="263.00" font-size="5.35" fill="#3a3a3a" stroke="#3a3a3a" stroke-width="0.24" text-anchor="end" transform="rotate(90 311.29 263.00)">PB10</text>
<line x1="190.50" y1="226.50" x2="204.50" y2="226.50" stroke="#6c6c74" stroke-width="0.8"/>
<text x="199.80" y="225.41" font-size="4.9" fill="#3a3a3a" stroke="#3a3a3a" stroke-width="0.24" text-anchor="middle">14</text>
<text x="208.00" y="228.81" font-size="5.15" fill="#3a3a3a" stroke="#3a3a3a" stroke-width="0.24" text-anchor="start">PA0</text>
<line x1="360.50" y1="226.50" x2="374.50" y2="226.50" stroke="#6c6c74" stroke-width="0.8"/>
<text x="367.50" y="225.41" font-size="4.9" fill="#3a3a3a" stroke="#3a3a3a" stroke-width="0.24" text-anchor="middle">35</text>
<text x="357.80" y="228.81" font-size="5.15" fill="#3a3a3a" stroke="#3a3a3a" stroke-width="0.24" text-anchor="end">PB14</text>
<line x1="319.50" y1="98.50" x2="319.50" y2="112.50" stroke="#6c6c74" stroke-width="0.8"/>
<text x="321.29" y="105.70" font-size="4.9" fill="#444" stroke="#444" stroke-width="0.24" text-anchor="middle" transform="rotate(90 321.29 105.70)">51</text>
<text x="318.04" y="117.00" font-size="5.35" fill="#3a3a3a" stroke="#3a3a3a" stroke-width="0.24" text-anchor="start" transform="rotate(90 318.04 117.00)">PC10</text>
<line x1="319.50" y1="267.50" x2="319.50" y2="280.50" stroke="#6c6c74" stroke-width="0.8"/>
<text x="321.29" y="274.00" font-size="4.9" fill="#444" stroke="#444" stroke-width="0.24" text-anchor="middle" transform="rotate(90 321.29 274.00)">30</text>
<text x="318.04" y="263.00" font-size="5.35" fill="#3a3a3a" stroke="#3a3a3a" stroke-width="0.24" text-anchor="end" transform="rotate(90 318.04 263.00)">VCAP_1</text>
<line x1="190.50" y1="233.50" x2="204.50" y2="233.50" stroke="#3a3a3a" stroke-width="0.8"/>
<text x="199.80" y="232.13" font-size="4.9" fill="#3a3a3a" stroke="#3a3a3a" stroke-width="0.24" text-anchor="middle">15</text>
<text x="208.00" y="235.53" font-size="5.15" fill="#3a3a3a" stroke="#3a3a3a" stroke-width="0.24" text-anchor="start">PA1</text>
<line x1="360.50" y1="233.50" x2="374.50" y2="233.50" stroke="#6c6c74" stroke-width="0.8"/>
<text x="367.50" y="232.13" font-size="4.9" fill="#3a3a3a" stroke="#3a3a3a" stroke-width="0.24" text-anchor="middle">34</text>
<text x="357.80" y="235.53" font-size="5.15" fill="#3a3a3a" stroke="#3a3a3a" stroke-width="0.24" text-anchor="end">PB13</text>
<line x1="326.50" y1="98.50" x2="326.50" y2="112.50" stroke="#6c6c74" stroke-width="0.8"/>
<text x="328.04" y="105.70" font-size="4.9" fill="#444" stroke="#444" stroke-width="0.24" text-anchor="middle" transform="rotate(90 328.04 105.70)">50</text>
<text x="324.79" y="117.00" font-size="5.35" fill="#3a3a3a" stroke="#3a3a3a" stroke-width="0.24" text-anchor="start" transform="rotate(90 324.79 117.00)">PA15</text>
<line x1="326.50" y1="267.50" x2="326.50" y2="280.50" stroke="#3a3a3a" stroke-width="0.8"/>
<text x="328.04" y="274.00" font-size="4.9" fill="#444" stroke="#444" stroke-width="0.24" text-anchor="middle" transform="rotate(90 328.04 274.00)">31</text>
<text x="324.79" y="263.00" font-size="5.35" fill="#3a3a3a" stroke="#3a3a3a" stroke-width="0.24" text-anchor="end" transform="rotate(90 324.79 263.00)">VSS</text>
<line x1="190.50" y1="240.50" x2="204.50" y2="240.50" stroke="#6c6c74" stroke-width="0.8"/>
<text x="199.80" y="238.85" font-size="4.9" fill="#3a3a3a" stroke="#3a3a3a" stroke-width="0.24" text-anchor="middle">16</text>
<text x="208.00" y="242.25" font-size="5.15" fill="#3a3a3a" stroke="#3a3a3a" stroke-width="0.24" text-anchor="start">PA2</text>
<line x1="360.50" y1="240.50" x2="374.50" y2="240.50" stroke="#6c6c74" stroke-width="0.8"/>
<text x="367.50" y="238.85" font-size="4.9" fill="#3a3a3a" stroke="#3a3a3a" stroke-width="0.24" text-anchor="middle">33</text>
<text x="357.80" y="242.25" font-size="5.15" fill="#3a3a3a" stroke="#3a3a3a" stroke-width="0.24" text-anchor="end">PB12</text>
<line x1="333.50" y1="98.50" x2="333.50" y2="112.50" stroke="#3a3a3a" stroke-width="0.8"/>
<text x="334.80" y="105.70" font-size="4.9" fill="#444" stroke="#444" stroke-width="0.24" text-anchor="middle" transform="rotate(90 334.80 105.70)">49</text>
<text x="331.55" y="117.00" font-size="5.35" fill="#3a3a3a" stroke="#3a3a3a" stroke-width="0.24" text-anchor="start" transform="rotate(90 331.55 117.00)">PA14</text>
<line x1="333.50" y1="267.50" x2="333.50" y2="280.50" stroke="#3a3a3a" stroke-width="0.8"/>
<text x="334.80" y="274.00" font-size="4.9" fill="#444" stroke="#444" stroke-width="0.24" text-anchor="middle" transform="rotate(90 334.80 274.00)">32</text>
<text x="331.55" y="263.00" font-size="5.35" fill="#3a3a3a" stroke="#3a3a3a" stroke-width="0.24" text-anchor="end" transform="rotate(90 331.55 263.00)">VDD</text>
<line x1="176.50" y1="179.50" x2="190.50" y2="179.50" stroke="#6c6c74" stroke-width="0.8"/>
<polygon points="153.00,176.62 173.50,176.62 177.00,179.72 173.50,182.82 153.00,182.82" fill="#faf7cc" stroke="#77774a" stroke-width="0.8"/>
<rect x="153.80" y="177.62" width="3.60" height="4.20" fill="#fff" stroke="#77774a" stroke-width="0.5"/>
<text x="166.00" y="181.52" font-size="5.1" fill="#66663a" stroke="#55552c" stroke-width="0.2" text-anchor="middle">NRST</text>
<line x1="176.50" y1="186.50" x2="190.50" y2="186.50" stroke="#6c6c74" stroke-width="0.8"/>
<polygon points="153.00,183.34 173.50,183.34 177.00,186.44 173.50,189.54 153.00,189.54" fill="#faf7cc" stroke="#77774a" stroke-width="0.8"/>
<rect x="153.80" y="184.34" width="3.60" height="4.20" fill="#fff" stroke="#77774a" stroke-width="0.5"/>
<text x="166.00" y="188.24" font-size="5.1" fill="#66663a" stroke="#55552c" stroke-width="0.2" text-anchor="middle">POT1</text>
<line x1="176.50" y1="193.50" x2="190.50" y2="193.50" stroke="#6c6c74" stroke-width="0.8"/>
<polygon points="153.00,190.06 173.50,190.06 177.00,193.16 173.50,196.26 153.00,196.26" fill="#faf7cc" stroke="#77774a" stroke-width="0.8"/>
<rect x="153.80" y="191.06" width="3.60" height="4.20" fill="#fff" stroke="#77774a" stroke-width="0.5"/>
<text x="166.00" y="194.96" font-size="5.1" fill="#66663a" stroke="#55552c" stroke-width="0.2" text-anchor="middle">POT2</text>
<line x1="176.50" y1="199.50" x2="190.50" y2="199.50" stroke="#6c6c74" stroke-width="0.8"/>
<polygon points="153.00,196.78 173.50,196.78 177.00,199.88 173.50,202.98 153.00,202.98" fill="#faf7cc" stroke="#77774a" stroke-width="0.8"/>
<rect x="153.80" y="197.78" width="3.60" height="4.20" fill="#fff" stroke="#77774a" stroke-width="0.5"/>
<text x="166.00" y="201.68" font-size="5.1" fill="#66663a" stroke="#55552c" stroke-width="0.2" text-anchor="middle">POT3</text>
<line x1="176.50" y1="206.50" x2="190.50" y2="206.50" stroke="#6c6c74" stroke-width="0.8"/>
<polygon points="153.00,203.50 173.50,203.50 177.00,206.60 173.50,209.70 153.00,209.70" fill="#faf7cc" stroke="#77774a" stroke-width="0.8"/>
<rect x="153.80" y="204.50" width="3.60" height="4.20" fill="#fff" stroke="#77774a" stroke-width="0.5"/>
<text x="166.00" y="208.40" font-size="5.1" fill="#66663a" stroke="#55552c" stroke-width="0.2" text-anchor="middle">POT4</text>
<rect x="143.00" y="200.00" width="2.00" height="7.00" fill="#1a1a1a"/>
<polyline points="144.50,203.50 150.50,203.50 150.50,213.50 190.50,213.50" fill="none" stroke="#3a3a3a" stroke-width="0.8"/>
<text x="135.50" y="222.19" font-size="5.15" fill="#3a3a3a" stroke="#3a3a3a" stroke-width="0.24" text-anchor="end">VCC</text>
<polygon points="139.00,220.04 144.50,218.04 144.50,222.04" fill="#fff" stroke="#3a3a3a" stroke-width="0.9"/>
<line x1="144.50" y1="220.50" x2="190.50" y2="220.50" stroke="#3a3a3a" stroke-width="0.8"/>
<polyline points="190.50,233.50 146.50,233.50 146.50,252.50 198.50,252.50 198.50,320.50 244.50,320.50 244.50,365.50" fill="none" stroke="#3a3a3a" stroke-width="0.8"/>
<polyline points="374.50,139.50 380.50,139.50 380.50,132.50" fill="none" stroke="#3a3a3a" stroke-width="0.8"/>
<polygon points="381.00,127.00 379.00,132.50 383.00,132.50" fill="#fff" stroke="#3a3a3a" stroke-width="0.9"/>
<text x="381.50" y="121.85" font-size="5.15" fill="#3a3a3a" stroke="#3a3a3a" stroke-width="0.24" text-anchor="middle">VCC</text>
<polyline points="374.50,146.50 397.50,146.50 397.50,132.50" fill="none" stroke="#3a3a3a" stroke-width="0.8"/>
<rect x="393.75" y="131.00" width="7.50" height="2.00" fill="#1a1a1a"/>
<line x1="374.50" y1="152.50" x2="381.50" y2="152.50" stroke="#3a3a3a" stroke-width="0.8"/>
<polygon points="381.30,152.84 386.70,149.64 412.70,149.64 412.70,156.04 386.70,156.04" fill="#faf7cc" stroke="#77774a" stroke-width="0.8"/>
<text x="399.40" y="154.64" font-size="5.1" fill="#66663a" stroke="#55552c" stroke-width="0.2" text-anchor="middle">SWDIO</text>
<line x1="374.50" y1="220.50" x2="394.50" y2="220.50" stroke="#3a3a3a" stroke-width="0.8"/>
<rect x="394.50" y="217.54" width="13.50" height="5.00" fill="#fff" stroke="#4a4a4a" stroke-width="0.9"/>
<polyline points="408.50,220.50 417.50,220.50 417.50,247.50" fill="none" stroke="#3a3a3a" stroke-width="0.8"/>
<text x="401.00" y="214.85" font-size="5.15" fill="#3a3a3a" stroke="#3a3a3a" stroke-width="0.24" text-anchor="middle">R8</text>
<text x="401.80" y="228.85" font-size="5.15" fill="#3a3a3a" stroke="#3a3a3a" stroke-width="0.24" text-anchor="middle">330R</text>
<polygon points="417.50,240.50 412.50,234.00 422.50,234.00" fill="#3aa63a" stroke="#2a7a2a" stroke-width="0.5"/>
<line x1="412.50" y1="240.50" x2="422.50" y2="240.50" stroke="#2a7a2a" stroke-width="1.1"/>
<rect x="414.00" y="246.50" width="7.00" height="2.00" fill="#1a1a1a"/>
<text x="407.50" y="237.85" font-size="5.15" fill="#3a3a3a" stroke="#3a3a3a" stroke-width="0.24" text-anchor="end">D6</text>
<text x="407.50" y="244.55" font-size="5.15" fill="#3a3a3a" stroke="#3a3a3a" stroke-width="0.24" text-anchor="end">LED</text>
<line x1="424.00" y1="235.20" x2="427.00" y2="236.60" stroke="#333355" stroke-width="0.8"/>
<line x1="426.20" y1="237.80" x2="429.20" y2="239.20" stroke="#333355" stroke-width="0.8"/>
<polyline points="238.50,280.50 238.50,291.50 228.50,291.50 228.50,306.50" fill="none" stroke="#3a3a3a" stroke-width="0.8"/>
<rect x="225.00" y="305.00" width="7.00" height="2.00" fill="#1a1a1a"/>
<line x1="245.50" y1="280.50" x2="245.50" y2="299.50" stroke="#3a3a3a" stroke-width="0.8"/>
<polygon points="245.71,305.00 243.71,299.50 247.71,299.50" fill="#fff" stroke="#3a3a3a" stroke-width="0.9"/>
<text x="245.50" y="313.85" font-size="5.15" fill="#3a3a3a" stroke="#3a3a3a" stroke-width="0.24" text-anchor="middle">VCC</text>
<polyline points="252.50,280.50 252.50,287.50 388.50,287.50" fill="none" stroke="#70707a" stroke-width="0.8"/>
<line x1="279.50" y1="280.50" x2="279.50" y2="294.50" stroke="#3a3a3a" stroke-width="0.8"/>
<polygon points="279.47,294.00 282.67,298.00 282.67,319.00 276.27,319.00 276.27,298.00" fill="#faf7cc" stroke="#77774a" stroke-width="0.8"/>
<text x="277.67" y="309.00" font-size="5.1" fill="#66663a" stroke="#55552c" stroke-width="0.2" text-anchor="middle" transform="rotate(90 277.67 309.00)">POT5</text>
<line x1="286.50" y1="280.50" x2="286.50" y2="294.50" stroke="#3a3a3a" stroke-width="0.8"/>
<polygon points="286.22,294.00 289.42,298.00 289.42,319.00 283.02,319.00 283.02,298.00" fill="#faf7cc" stroke="#77774a" stroke-width="0.8"/>
<text x="284.42" y="309.00" font-size="5.1" fill="#66663a" stroke="#55552c" stroke-width="0.2" text-anchor="middle" transform="rotate(90 284.42 309.00)">POT6</text>
<line x1="292.50" y1="280.50" x2="292.50" y2="294.50" stroke="#3a3a3a" stroke-width="0.8"/>
<polygon points="292.98,294.00 296.18,298.00 296.18,319.00 289.78,319.00 289.78,298.00" fill="#faf7cc" stroke="#77774a" stroke-width="0.8"/>
<text x="291.18" y="309.00" font-size="5.1" fill="#66663a" stroke="#55552c" stroke-width="0.2" text-anchor="middle" transform="rotate(90 291.18 309.00)">POT7</text>
<line x1="326.50" y1="280.50" x2="326.50" y2="304.50" stroke="#3a3a3a" stroke-width="0.8"/>
<rect x="323.00" y="304.00" width="7.00" height="2.00" fill="#1a1a1a"/>
<polyline points="333.50,280.50 333.50,291.50 342.50,291.50 342.50,300.50" fill="none" stroke="#3a3a3a" stroke-width="0.8"/>
<polygon points="343.00,306.50 341.00,301.00 345.00,301.00" fill="#fff" stroke="#3a3a3a" stroke-width="0.9"/>
<text x="344.30" y="314.35" font-size="5.15" fill="#3a3a3a" stroke="#3a3a3a" stroke-width="0.24" text-anchor="middle">VCC</text>
<rect x="388.00" y="285.00" width="12.80" height="5.00" fill="#fff" stroke="#4a4a4a" stroke-width="0.9"/>
<text x="394.80" y="282.85" font-size="5.15" fill="#3a3a3a" stroke="#3a3a3a" stroke-width="0.24" text-anchor="middle">R13</text>
<text x="395.50" y="297.35" font-size="5.15" fill="#3a3a3a" stroke="#3a3a3a" stroke-width="0.24" text-anchor="middle">150K</text>
<line x1="400.50" y1="287.50" x2="434.50" y2="287.50" stroke="#3a3a3a" stroke-width="0.8"/>
<circle cx="434.50" cy="287.50" r="1.25" fill="#222"/>
<line x1="434.50" y1="166.50" x2="434.50" y2="331.50" stroke="#3a3a3a" stroke-width="0.8"/>
<rect x="432.00" y="303.30" width="5.00" height="13.20" fill="#fff" stroke="#4a4a4a" stroke-width="0.9"/>
<rect x="430.50" y="330.50" width="8.00" height="2.00" fill="#1a1a1a"/>
<text x="440.40" y="308.85" font-size="5.15" fill="#3a3a3a" stroke="#3a3a3a" stroke-width="0.24" text-anchor="start">R14</text>
<text x="440.40" y="316.15" font-size="5.15" fill="#3a3a3a" stroke="#3a3a3a" stroke-width="0.24" text-anchor="start">10K</text>
<text x="462.80" y="116.85" font-size="5.15" fill="#3a3a3a" stroke="#3a3a3a" stroke-width="0.24" text-anchor="middle">6.8V</text>
<polygon points="462.00,120.00 460.00,126.00 464.00,126.00" fill="#fff" stroke="#3a3a3a" stroke-width="0.9"/>
<line x1="462.50" y1="126.50" x2="462.50" y2="230.50" stroke="#555" stroke-width="0.8"/>
<rect x="452.50" y="144.00" width="26.10" height="65.00" fill="none" stroke="#8c8c8c" stroke-width="0.8"/>
<text x="470.00" y="141.85" font-size="5.15" fill="#3a3a3a" stroke="#3a3a3a" stroke-width="0.24" text-anchor="middle">D3</text>
<text x="466.50" y="215.85" font-size="5.15" fill="#3a3a3a" stroke="#3a3a3a" stroke-width="0.24" text-anchor="start">TLC2272</text>
<polygon points="455,146.00 455,173.00 475.5,159.50" fill="#fff8ac" stroke="#8a8a2e" stroke-width="1"/>
<text x="456.20" y="154.30" font-size="4" fill="#666" stroke="#666" stroke-width="0.24" text-anchor="start">−</text>
<text x="456.20" y="167.50" font-size="4" fill="#666" stroke="#666" stroke-width="0.24" text-anchor="start">+</text>
<polygon points="455,180.00 455,207.00 475.5,193.50" fill="#fff8ac" stroke="#8a8a2e" stroke-width="1"/>
<text x="456.20" y="188.30" font-size="4" fill="#666" stroke="#666" stroke-width="0.24" text-anchor="start">−</text>
<text x="456.20" y="201.50" font-size="4" fill="#666" stroke="#666" stroke-width="0.24" text-anchor="start">+</text>
<polyline points="456.50,152.50 440.50,152.50 440.50,136.50 492.50,136.50 492.50,159.50" fill="none" stroke="#3a3a3a" stroke-width="0.8"/>
<polyline points="475.50,159.50 500.50,159.50" fill="none" stroke="#3a3a3a" stroke-width="0.8"/>
<circle cx="492.50" cy="159.50" r="1.25" fill="#222"/>
<circle cx="462.50" cy="136.50" r="0.9" fill="#222"/>
<line x1="434.50" y1="166.50" x2="454.50" y2="166.50" stroke="#3a3a3a" stroke-width="0.8"/>
<rect x="502.15" y="154.75" width="2.00" height="9.50" fill="#fff"/>
<rect x="500.35" y="154.75" width="2.00" height="9.50" fill="#1a1a1a"/>
<rect x="503.95" y="154.75" width="2.00" height="9.50" fill="#1a1a1a"/>
<line x1="505.50" y1="159.50" x2="514.50" y2="159.50" stroke="#3a3a3a" stroke-width="0.8"/>
<text x="502.50" y="152.85" font-size="5.15" fill="#3a3a3a" stroke="#3a3a3a" stroke-width="0.24" text-anchor="middle">C7</text>
<text x="502.50" y="169.85" font-size="5.15" fill="#3a3a3a" stroke="#3a3a3a" stroke-width="0.24" text-anchor="middle">10uF</text>
<rect x="514.60" y="157.00" width="12.20" height="5.00" fill="#fff" stroke="#4a4a4a" stroke-width="0.9"/>
<text x="521.00" y="154.85" font-size="5.15" fill="#3a3a3a" stroke="#3a3a3a" stroke-width="0.24" text-anchor="middle">R15</text>
<text x="521.00" y="167.65" font-size="5.15" fill="#3a3a3a" stroke="#3a3a3a" stroke-width="0.24" text-anchor="middle">51</text>
<polyline points="454.50,186.50 440.50,186.50 440.50,220.50 492.50,220.50 492.50,193.50" fill="none" stroke="#3a3a3a" stroke-width="0.8"/>
<circle cx="492.50" cy="193.50" r="1.25" fill="#222"/>
<polyline points="475.50,193.50 501.50,193.50" fill="none" stroke="#3a3a3a" stroke-width="0.8"/>
<line x1="434.50" y1="199.50" x2="454.50" y2="199.50" stroke="#3a3a3a" stroke-width="0.8"/>
<circle cx="434.50" cy="199.50" r="1.25" fill="#222"/>
<circle cx="440.50" cy="199.50" r="1.25" fill="#222"/>
<rect x="502.55" y="188.75" width="2.00" height="9.50" fill="#fff"/>
<rect x="500.75" y="188.75" width="2.00" height="9.50" fill="#1a1a1a"/>
<rect x="504.35" y="188.75" width="2.00" height="9.50" fill="#1a1a1a"/>
<line x1="505.50" y1="193.50" x2="514.50" y2="193.50" stroke="#3a3a3a" stroke-width="0.8"/>
<text x="502.50" y="186.85" font-size="5.15" fill="#3a3a3a" stroke="#3a3a3a" stroke-width="0.24" text-anchor="middle">C10</text>
<text x="502.50" y="203.85" font-size="5.15" fill="#3a3a3a" stroke="#3a3a3a" stroke-width="0.24" text-anchor="middle">10uF</text>
<rect x="514.60" y="190.80" width="12.40" height="5.00" fill="#fff" stroke="#4a4a4a" stroke-width="0.9"/>
<text x="521.00" y="188.35" font-size="5.15" fill="#3a3a3a" stroke="#3a3a3a" stroke-width="0.24" text-anchor="middle">R16</text>
<text x="521.00" y="201.35" font-size="5.15" fill="#3a3a3a" stroke="#3a3a3a" stroke-width="0.24" text-anchor="middle">51</text>
<polygon points="461.50,235.80 459.50,230.50 463.50,230.50" fill="#fff" stroke="#3a3a3a" stroke-width="0.9"/>
<text x="461.50" y="243.85" font-size="5.15" fill="#3a3a3a" stroke="#3a3a3a" stroke-width="0.24" text-anchor="middle">−5V</text>
<rect x="554.00" y="92.00" width="27.30" height="40.50" fill="#fff8c2" stroke="#66664e" stroke-width="0.9"/>
<polyline points="532.50,193.50 532.50,78.50 559.50,78.50 559.50,92.50" fill="none" stroke="#686868" stroke-width="0.8"/>
<polyline points="538.50,158.50 538.50,71.50 565.50,71.50 565.50,92.50" fill="none" stroke="#686868" stroke-width="0.8"/>
<polyline points="572.50,92.50 572.50,74.50 592.50,74.50 592.50,170.50" fill="none" stroke="#686868" stroke-width="0.8"/>
<rect x="588.75" y="169.30" width="7.50" height="2.00" fill="#1a1a1a"/>
<polyline points="526.50,193.50 558.50,193.50 558.50,132.50" fill="none" stroke="#686868" stroke-width="0.8"/>
<circle cx="532.50" cy="193.50" r="1.25" fill="#222"/>
<polyline points="526.50,158.50 565.50,158.50 565.50,132.50" fill="none" stroke="#686868" stroke-width="0.8"/>
<circle cx="538.50" cy="158.50" r="1.25" fill="#222"/>
<circle cx="558.50" cy="158.50" r="0.9" fill="#222"/>
<polyline points="572.50,132.50 572.50,158.50 592.50,158.50" fill="none" stroke="#686868" stroke-width="0.8"/>
<circle cx="592.50" cy="158.50" r="0.9" fill="#222"/>
<text x="548.00" y="112.50" font-size="4.8" fill="#3a3a3a" stroke="#3a3a3a" stroke-width="0.24" text-anchor="middle" transform="rotate(90 548.00 112.50)">J2</text>
<text x="582.90" y="111.00" font-size="4.6" fill="#3a3a3a" stroke="#3a3a3a" stroke-width="0.24" text-anchor="middle" transform="rotate(90 582.90 111.00)">KJ47</text>
<text x="560.80" y="87.50" font-size="4.2" fill="#555" stroke="#555" stroke-width="0.24" text-anchor="middle" transform="rotate(90 560.80 87.50)">3</text>
<text x="566.80" y="87.50" font-size="4.2" fill="#555" stroke="#555" stroke-width="0.24" text-anchor="middle" transform="rotate(90 566.80 87.50)">2</text>
<text x="573.30" y="87.50" font-size="4.2" fill="#555" stroke="#555" stroke-width="0.24" text-anchor="middle" transform="rotate(90 573.30 87.50)">1</text>
<text x="560.30" y="137.50" font-size="4.2" fill="#555" stroke="#555" stroke-width="0.24" text-anchor="middle" transform="rotate(90 560.30 137.50)">6</text>
<text x="566.80" y="137.50" font-size="4.2" fill="#555" stroke="#555" stroke-width="0.24" text-anchor="middle" transform="rotate(90 566.80 137.50)">5</text>
<text x="573.30" y="137.50" font-size="4.2" fill="#555" stroke="#555" stroke-width="0.24" text-anchor="middle" transform="rotate(90 573.30 137.50)">4</text>
<rect x="453.00" y="267.50" width="41.50" height="20.00" fill="#fff8c2" stroke="#66664e" stroke-width="0.9"/>
<text x="474.00" y="263.55" font-size="5.15" fill="#3a3a3a" stroke="#3a3a3a" stroke-width="0.24" text-anchor="middle">J1</text>
<text x="475.30" y="294.85" font-size="5.15" fill="#3a3a3a" stroke="#3a3a3a" stroke-width="0.24" text-anchor="middle">DC5,5</text>
<line x1="443.50" y1="273.50" x2="452.50" y2="273.50" stroke="#686868" stroke-width="0.8"/>
<text x="448.50" y="272.45" font-size="5.15" fill="#3a3a3a" stroke="#3a3a3a" stroke-width="0.24" text-anchor="middle">3</text>
<polyline points="494.50,273.50 502.50,273.50 502.50,256.50" fill="none" stroke="#686868" stroke-width="0.8"/>
<rect x="498.60" y="255.60" width="7.80" height="2.00" fill="#1a1a1a"/>
<text x="498.70" y="272.45" font-size="5.15" fill="#3a3a3a" stroke="#3a3a3a" stroke-width="0.24" text-anchor="middle">1</text>
<line x1="494.50" y1="280.50" x2="528.50" y2="280.50" stroke="#3a3a3a" stroke-width="0.8"/>
<text x="498.70" y="279.65" font-size="5.15" fill="#3a3a3a" stroke="#3a3a3a" stroke-width="0.24" text-anchor="middle">2</text>
<text x="524.00" y="279.65" font-size="5.15" fill="#3a3a3a" stroke="#3a3a3a" stroke-width="0.24" text-anchor="middle">3</text>
<circle cx="509.50" cy="280.50" r="1.25" fill="#222"/>
<circle cx="517.50" cy="280.50" r="1.25" fill="#222"/>
<text x="511.00" y="263.55" font-size="5.15" fill="#3a3a3a" stroke="#3a3a3a" stroke-width="0.24" text-anchor="middle">5V</text>
<polygon points="509.50,267.70 507.50,273.00 511.50,273.00" fill="#fff" stroke="#3a3a3a" stroke-width="0.9"/>
<line x1="509.50" y1="272.50" x2="509.50" y2="280.50" stroke="#3a3a3a" stroke-width="0.8"/>
<line x1="517.50" y1="280.50" x2="517.50" y2="314.50" stroke="#3a3a3a" stroke-width="0.8"/>
<rect x="513.10" y="299.80" width="8.80" height="2.00" fill="#fff"/>
<rect x="513.10" y="297.80" width="8.80" height="2.20" fill="#1a1a1a"/>
<rect x="513.10" y="301.60" width="8.80" height="2.20" fill="#1a1a1a"/>
<rect x="513.50" y="314.00" width="8.00" height="2.00" fill="#1a1a1a"/>
<text x="510.30" y="299.85" font-size="5.15" fill="#3a3a3a" stroke="#3a3a3a" stroke-width="0.24" text-anchor="end">C1</text>
<text x="510.30" y="307.35" font-size="5.15" fill="#3a3a3a" stroke="#3a3a3a" stroke-width="0.24" text-anchor="end">1uF</text>
<rect x="528.00" y="274.20" width="45.00" height="27.40" fill="#fff8c2" stroke="#66664e" stroke-width="0.9"/>
<text x="536.50" y="270.85" font-size="5.15" fill="#3a3a3a" stroke="#3a3a3a" stroke-width="0.24" text-anchor="start">U1</text>
<text x="547.60" y="270.85" font-size="5.15" fill="#3a3a3a" stroke="#3a3a3a" stroke-width="0.24" text-anchor="start">LM1117</text>
<text x="532.00" y="282.85" font-size="5.15" fill="#3a3a3a" stroke="#3a3a3a" stroke-width="0.24" text-anchor="start">IN</text>
<text x="570.50" y="280.35" font-size="5.15" fill="#3a3a3a" stroke="#3a3a3a" stroke-width="0.24" text-anchor="end">OUT</text>
<text x="570.50" y="289.65" font-size="5.15" fill="#3a3a3a" stroke="#3a3a3a" stroke-width="0.24" text-anchor="end">OUT</text>
<text x="550.80" y="291.50" font-size="5.15" fill="#3a3a3a" stroke="#3a3a3a" stroke-width="0.24" text-anchor="middle" transform="rotate(-90 550.80 291.50)">GND</text>
<line x1="548.50" y1="301.50" x2="548.50" y2="312.50" stroke="#686868" stroke-width="0.8"/>
<text x="551.50" y="308.35" font-size="4" fill="#3a3a3a" stroke="#3a3a3a" stroke-width="0.24" text-anchor="start">1</text>
<polyline points="572.50,280.50 589.50,280.50 589.50,272.50" fill="none" stroke="#3a3a3a" stroke-width="0.8"/>
<line x1="572.50" y1="287.50" x2="582.50" y2="287.50" stroke="#3a3a3a" stroke-width="0.8"/>
<text x="577.00" y="279.65" font-size="5.15" fill="#3a3a3a" stroke="#3a3a3a" stroke-width="0.24" text-anchor="middle">2</text>
<text x="577.00" y="286.55" font-size="5.15" fill="#3a3a3a" stroke="#3a3a3a" stroke-width="0.24" text-anchor="middle">4</text>
<circle cx="582.50" cy="280.50" r="1.25" fill="#222"/>
<circle cx="582.50" cy="287.50" r="1.25" fill="#222"/>
<text x="589.80" y="263.35" font-size="5.15" fill="#3a3a3a" stroke="#3a3a3a" stroke-width="0.24" text-anchor="middle">VCC</text>
<polygon points="589.70,266.80 587.70,272.50 591.70,272.50" fill="#fff" stroke="#3a3a3a" stroke-width="0.9"/>
<line x1="582.50" y1="280.50" x2="582.50" y2="314.50" stroke="#3a3a3a" stroke-width="0.8"/>
<rect x="578.10" y="299.80" width="8.80" height="2.00" fill="#fff"/>
<rect x="578.10" y="297.80" width="8.80" height="2.20" fill="#1a1a1a"/>
<rect x="578.10" y="301.60" width="8.80" height="2.20" fill="#1a1a1a"/>
<rect x="578.50" y="314.00" width="8.00" height="2.00" fill="#1a1a1a"/>
<text x="589.00" y="301.35" font-size="5.15" fill="#3a3a3a" stroke="#3a3a3a" stroke-width="0.24" text-anchor="start">C2</text>
<text x="589.00" y="308.35" font-size="5.15" fill="#3a3a3a" stroke="#3a3a3a" stroke-width="0.24" text-anchor="start">1uF</text>
<text x="499.50" y="332.85" font-size="5.15" fill="#3a3a3a" stroke="#3a3a3a" stroke-width="0.24" text-anchor="middle">VCC</text>
<polygon points="499.00,336.50 497.00,341.80 501.00,341.80" fill="#fff" stroke="#3a3a3a" stroke-width="0.9"/>
<line x1="498.50" y1="341.50" x2="498.50" y2="368.50" stroke="#3a3a3a" stroke-width="0.8"/>
<rect x="494.10" y="352.90" width="8.80" height="2.00" fill="#fff"/>
<rect x="494.10" y="350.90" width="8.80" height="2.20" fill="#1a1a1a"/>
<rect x="494.10" y="354.70" width="8.80" height="2.20" fill="#1a1a1a"/>
<rect x="494.50" y="367.60" width="8.00" height="2.00" fill="#1a1a1a"/>
<text x="505.60" y="353.35" font-size="5.15" fill="#3a3a3a" stroke="#3a3a3a" stroke-width="0.24" text-anchor="start">C14</text>
<text x="505.60" y="360.15" font-size="5.15" fill="#3a3a3a" stroke="#3a3a3a" stroke-width="0.24" text-anchor="start">100nF</text>
<rect x="6.30" y="312.00" width="27.50" height="40.50" fill="#fff8c2" stroke="#66664e" stroke-width="0.9"/>
<polyline points="13.50,312.50 13.50,298.50 1.50,298.50 1.50,372.50 13.50,372.50" fill="none" stroke="#686868" stroke-width="0.8"/>
<line x1="20.50" y1="297.50" x2="20.50" y2="312.50" stroke="#686868" stroke-width="0.8"/>
<polyline points="26.50,312.50 26.50,294.50 43.50,294.50 43.50,372.50" fill="none" stroke="#686868" stroke-width="0.8"/>
<line x1="13.50" y1="352.50" x2="13.50" y2="382.50" stroke="#686868" stroke-width="0.8"/>
<rect x="9.75" y="382.00" width="7.50" height="2.00" fill="#1a1a1a"/>
<circle cx="13.50" cy="372.50" r="1.25" fill="#222"/>
<line x1="20.50" y1="352.50" x2="20.50" y2="364.50" stroke="#686868" stroke-width="0.8"/>
<polyline points="26.50,352.50 26.50,372.50 51.50,372.50" fill="none" stroke="#686868" stroke-width="0.8"/>
<circle cx="43.50" cy="372.50" r="1.25" fill="#222"/>
<text x="37.30" y="332.50" font-size="4.8" fill="#3a3a3a" stroke="#3a3a3a" stroke-width="0.24" text-anchor="middle" transform="rotate(90 37.30 332.50)">J3</text>
<text x="37.30" y="345.50" font-size="4.6" fill="#3a3a3a" stroke="#3a3a3a" stroke-width="0.24" text-anchor="middle" transform="rotate(90 37.30 345.50)">KJ47</text>
<text x="14.80" y="307.00" font-size="4.2" fill="#555" stroke="#555" stroke-width="0.24" text-anchor="middle" transform="rotate(90 14.80 307.00)">3</text>
<text x="20.80" y="307.00" font-size="4.2" fill="#555" stroke="#555" stroke-width="0.24" text-anchor="middle" transform="rotate(90 20.80 307.00)">2</text>
<text x="27.30" y="307.00" font-size="4.2" fill="#555" stroke="#555" stroke-width="0.24" text-anchor="middle" transform="rotate(90 27.30 307.00)">1</text>
<text x="14.80" y="357.50" font-size="4.2" fill="#555" stroke="#555" stroke-width="0.24" text-anchor="middle" transform="rotate(90 14.80 357.50)">6</text>
<text x="20.80" y="357.50" font-size="4.2" fill="#555" stroke="#555" stroke-width="0.24" text-anchor="middle" transform="rotate(90 20.80 357.50)">5</text>
<text x="27.30" y="357.50" font-size="4.2" fill="#555" stroke="#555" stroke-width="0.24" text-anchor="middle" transform="rotate(90 27.30 357.50)">4</text>
<rect x="52.05" y="367.75" width="2.00" height="9.50" fill="#fff"/>
<rect x="50.25" y="367.75" width="2.00" height="9.50" fill="#1a1a1a"/>
<rect x="53.85" y="367.75" width="2.00" height="9.50" fill="#1a1a1a"/>
<line x1="54.50" y1="372.50" x2="144.50" y2="372.50" stroke="#3a3a3a" stroke-width="0.8"/>
<text x="52.80" y="366.15" font-size="5.15" fill="#3a3a3a" stroke="#3a3a3a" stroke-width="0.24" text-anchor="middle">C12</text>
<text x="52.80" y="382.05" font-size="5.15" fill="#3a3a3a" stroke="#3a3a3a" stroke-width="0.24" text-anchor="middle">1uF</text>
<circle cx="62.50" cy="372.50" r="1.25" fill="#222"/>
<circle cx="86.50" cy="372.50" r="1.25" fill="#222"/>
<circle cx="110.50" cy="372.50" r="1.25" fill="#222"/>
<line x1="62.50" y1="372.50" x2="62.50" y2="427.50" stroke="#3a3a3a" stroke-width="0.8"/>
<rect x="60.20" y="388.80" width="5.00" height="12.50" fill="#fff" stroke="#4a4a4a" stroke-width="0.9"/>
<rect x="58.10" y="415.10" width="8.80" height="2.00" fill="#fff"/>
<rect x="58.10" y="413.10" width="8.80" height="2.20" fill="#1a1a1a"/>
<rect x="58.10" y="416.90" width="8.80" height="2.20" fill="#1a1a1a"/>
<rect x="58.50" y="426.50" width="8.00" height="2.00" fill="#1a1a1a"/>
<text x="58.80" y="393.85" font-size="5.15" fill="#3a3a3a" stroke="#3a3a3a" stroke-width="0.24" text-anchor="end">R10</text>
<text x="58.80" y="400.35" font-size="5.15" fill="#3a3a3a" stroke="#3a3a3a" stroke-width="0.24" text-anchor="end">100K</text>
<text x="71.30" y="416.85" font-size="5.15" fill="#3a3a3a" stroke="#3a3a3a" stroke-width="0.24" text-anchor="start">C13</text>
<text x="71.30" y="423.65" font-size="5.15" fill="#3a3a3a" stroke="#3a3a3a" stroke-width="0.24" text-anchor="start">1uF</text>
<text x="88.50" y="273.85" font-size="5.15" fill="#3a3a3a" stroke="#3a3a3a" stroke-width="0.24" text-anchor="middle">VCC</text>
<polygon points="86.80,279.50 84.80,285.00 88.80,285.00" fill="#fff" stroke="#3a3a3a" stroke-width="0.9"/>
<line x1="86.50" y1="284.50" x2="86.50" y2="409.50" stroke="#3a3a3a" stroke-width="0.8"/>
<rect x="84.30" y="292.50" width="5.00" height="12.50" fill="#fff" stroke="#4a4a4a" stroke-width="0.9"/>
<rect x="84.30" y="325.50" width="5.00" height="12.50" fill="#fff" stroke="#4a4a4a" stroke-width="0.9"/>
<rect x="84.30" y="388.80" width="5.00" height="12.50" fill="#fff" stroke="#4a4a4a" stroke-width="0.9"/>
<rect x="82.75" y="408.50" width="7.50" height="2.00" fill="#1a1a1a"/>
<circle cx="86.50" cy="315.50" r="1.25" fill="#222"/>
<text x="92.50" y="297.85" font-size="5.15" fill="#3a3a3a" stroke="#3a3a3a" stroke-width="0.24" text-anchor="start">R5</text>
<text x="92.50" y="304.55" font-size="5.15" fill="#3a3a3a" stroke="#3a3a3a" stroke-width="0.24" text-anchor="start">10K</text>
<text x="92.50" y="330.85" font-size="5.15" fill="#3a3a3a" stroke="#3a3a3a" stroke-width="0.24" text-anchor="start">R6</text>
<text x="92.50" y="337.35" font-size="5.15" fill="#3a3a3a" stroke="#3a3a3a" stroke-width="0.24" text-anchor="start">2,0M</text>
<text x="92.50" y="393.85" font-size="5.15" fill="#3a3a3a" stroke="#3a3a3a" stroke-width="0.24" text-anchor="start">R11</text>
<text x="92.50" y="400.35" font-size="5.15" fill="#3a3a3a" stroke="#3a3a3a" stroke-width="0.24" text-anchor="start">2,0M</text>
<rect x="59.00" y="312.00" width="2.00" height="7.00" fill="#1a1a1a"/>
<line x1="60.50" y1="315.50" x2="70.50" y2="315.50" stroke="#3a3a3a" stroke-width="0.8"/>
<rect x="72.10" y="310.75" width="2.00" height="9.50" fill="#fff"/>
<rect x="70.30" y="310.75" width="2.00" height="9.50" fill="#1a1a1a"/>
<rect x="73.90" y="310.75" width="2.00" height="9.50" fill="#1a1a1a"/>
<line x1="74.50" y1="315.50" x2="86.50" y2="315.50" stroke="#3a3a3a" stroke-width="0.8"/>
<text x="73.30" y="307.85" font-size="5.15" fill="#3a3a3a" stroke="#3a3a3a" stroke-width="0.24" text-anchor="middle">C9</text>
<text x="73.50" y="327.35" font-size="5.15" fill="#3a3a3a" stroke="#3a3a3a" stroke-width="0.24" text-anchor="middle">1uF</text>
<polyline points="118.50,358.50 110.50,358.50 110.50,409.50" fill="none" stroke="#3a3a3a" stroke-width="0.8"/>
<rect x="107.70" y="388.80" width="5.00" height="12.50" fill="#fff" stroke="#4a4a4a" stroke-width="0.9"/>
<rect x="106.75" y="408.50" width="7.50" height="2.00" fill="#1a1a1a"/>
<text x="115.00" y="393.85" font-size="5.15" fill="#3a3a3a" stroke="#3a3a3a" stroke-width="0.24" text-anchor="start">R12</text>
<text x="115.00" y="400.35" font-size="5.15" fill="#3a3a3a" stroke="#3a3a3a" stroke-width="0.24" text-anchor="start">1K</text>
<rect x="107.00" y="335.00" width="2.00" height="7.00" fill="#1a1a1a"/>
<line x1="108.50" y1="338.50" x2="118.50" y2="338.50" stroke="#3a3a3a" stroke-width="0.8"/>
<rect x="120.10" y="333.75" width="2.00" height="9.50" fill="#fff"/>
<rect x="118.30" y="333.75" width="2.00" height="9.50" fill="#1a1a1a"/>
<rect x="121.90" y="333.75" width="2.00" height="9.50" fill="#1a1a1a"/>
<line x1="122.50" y1="338.50" x2="147.50" y2="338.50" stroke="#3a3a3a" stroke-width="0.8"/>
<circle cx="147.50" cy="338.50" r="0.9" fill="#222"/>
<text x="121.50" y="325.65" font-size="5.15" fill="#3a3a3a" stroke="#3a3a3a" stroke-width="0.24" text-anchor="middle">C16</text>
<text x="121.30" y="332.15" font-size="5.15" fill="#3a3a3a" stroke="#3a3a3a" stroke-width="0.24" text-anchor="middle">100nF</text>
<rect x="120.10" y="353.75" width="2.00" height="9.50" fill="#fff"/>
<rect x="118.30" y="353.75" width="2.00" height="9.50" fill="#1a1a1a"/>
<rect x="121.90" y="353.75" width="2.00" height="9.50" fill="#1a1a1a"/>
<line x1="122.50" y1="358.50" x2="144.50" y2="358.50" stroke="#3a3a3a" stroke-width="0.8"/>
<circle cx="130.50" cy="358.50" r="1.25" fill="#222"/>
<text x="110.50" y="350.55" font-size="5.15" fill="#3a3a3a" stroke="#3a3a3a" stroke-width="0.24" text-anchor="middle">C11</text>
<text x="110.20" y="357.15" font-size="5.15" fill="#3a3a3a" stroke="#3a3a3a" stroke-width="0.24" text-anchor="middle">10uF</text>
<polyline points="130.50,358.50 130.50,315.50 162.50,315.50" fill="none" stroke="#3a3a3a" stroke-width="0.8"/>
<rect x="162.50" y="312.70" width="13.00" height="5.00" fill="#fff" stroke="#4a4a4a" stroke-width="0.9"/>
<polyline points="175.50,315.50 184.50,315.50" fill="none" stroke="#3a3a3a" stroke-width="0.8"/>
<circle cx="150.50" cy="315.50" r="1.25" fill="#222"/>
<circle cx="184.50" cy="315.50" r="1.25" fill="#222"/>
<text x="168.50" y="310.85" font-size="5.15" fill="#3a3a3a" stroke="#3a3a3a" stroke-width="0.24" text-anchor="middle">R7</text>
<text x="169.00" y="323.15" font-size="5.15" fill="#3a3a3a" stroke="#3a3a3a" stroke-width="0.24" text-anchor="middle">1M</text>
<polyline points="150.50,315.50 150.50,294.50 164.50,294.50" fill="none" stroke="#3a3a3a" stroke-width="0.8"/>
<rect x="166.25" y="289.75" width="2.00" height="9.50" fill="#fff"/>
<rect x="164.45" y="289.75" width="2.00" height="9.50" fill="#1a1a1a"/>
<rect x="168.05" y="289.75" width="2.00" height="9.50" fill="#1a1a1a"/>
<polyline points="169.50,294.50 184.50,294.50 184.50,365.50" fill="none" stroke="#3a3a3a" stroke-width="0.8"/>
<text x="167.30" y="280.85" font-size="5.15" fill="#3a3a3a" stroke="#3a3a3a" stroke-width="0.24" text-anchor="middle">C8</text>
<text x="167.50" y="287.05" font-size="5.15" fill="#3a3a3a" stroke="#3a3a3a" stroke-width="0.24" text-anchor="middle">33pF</text>
<text x="148.50" y="323.85" font-size="5.15" fill="#3a3a3a" stroke="#3a3a3a" stroke-width="0.24" text-anchor="middle">6.8V</text>
<polygon points="147.50,327.30 145.50,333.00 149.50,333.00" fill="#fff" stroke="#3a3a3a" stroke-width="0.9"/>
<line x1="147.50" y1="332.50" x2="147.50" y2="354.50" stroke="#3a3a3a" stroke-width="0.8"/>
<line x1="154.50" y1="345.50" x2="154.50" y2="360.50" stroke="#686868" stroke-width="0.8"/>
<line x1="160.50" y1="345.50" x2="160.50" y2="362.50" stroke="#686868" stroke-width="0.8"/>
<line x1="147.50" y1="376.50" x2="147.50" y2="413.50" stroke="#3a3a3a" stroke-width="0.8"/>
<polygon points="147.50,419.50 145.50,413.80 149.50,413.80" fill="#fff" stroke="#3a3a3a" stroke-width="0.9"/>
<text x="147.50" y="428.15" font-size="5.15" fill="#3a3a3a" stroke="#3a3a3a" stroke-width="0.24" text-anchor="middle">−5V</text>
<polygon points="144.3,352.5 144.3,379.5 164.6,366" fill="#fff8ac" stroke="#8a8a2e" stroke-width="1"/>
<text x="145.40" y="360.20" font-size="4" fill="#666" stroke="#666" stroke-width="0.24" text-anchor="start">−</text>
<text x="145.40" y="374.00" font-size="4" fill="#666" stroke="#666" stroke-width="0.24" text-anchor="start">+</text>
<text x="159.20" y="379.15" font-size="5.15" fill="#3a3a3a" stroke="#3a3a3a" stroke-width="0.24" text-anchor="middle">U4</text>
<text x="151.70" y="386.15" font-size="5.15" fill="#3a3a3a" stroke="#3a3a3a" stroke-width="0.24" text-anchor="start">NE5534</text>
<circle cx="147.50" cy="403.50" r="1.25" fill="#222"/>
<line x1="147.50" y1="403.50" x2="164.50" y2="403.50" stroke="#3a3a3a" stroke-width="0.8"/>
<rect x="166.05" y="398.75" width="2.00" height="9.50" fill="#fff"/>
<rect x="164.25" y="398.75" width="2.00" height="9.50" fill="#1a1a1a"/>
<rect x="167.85" y="398.75" width="2.00" height="9.50" fill="#1a1a1a"/>
<line x1="168.50" y1="403.50" x2="179.50" y2="403.50" stroke="#3a3a3a" stroke-width="0.8"/>
<rect x="178.30" y="399.75" width="2.00" height="7.50" fill="#1a1a1a"/>
<text x="167.00" y="396.85" font-size="5.15" fill="#3a3a3a" stroke="#3a3a3a" stroke-width="0.24" text-anchor="middle">C15</text>
<text x="167.30" y="413.85" font-size="5.15" fill="#3a3a3a" stroke="#3a3a3a" stroke-width="0.24" text-anchor="middle">100nF</text>
<line x1="164.50" y1="365.50" x2="194.50" y2="365.50" stroke="#3a3a3a" stroke-width="0.8"/>
<circle cx="184.50" cy="365.50" r="1.25" fill="#222"/>
<rect x="195.00" y="363.30" width="13.80" height="5.00" fill="#fff" stroke="#4a4a4a" stroke-width="0.9"/>
<line x1="208.50" y1="365.50" x2="244.50" y2="365.50" stroke="#3a3a3a" stroke-width="0.8"/>
<circle cx="228.50" cy="365.50" r="1.25" fill="#222"/>
<text x="202.00" y="361.15" font-size="5.15" fill="#3a3a3a" stroke="#3a3a3a" stroke-width="0.24" text-anchor="middle">R9</text>
<text x="201.80" y="374.85" font-size="5.15" fill="#3a3a3a" stroke="#3a3a3a" stroke-width="0.24" text-anchor="middle">330R</text>
<text x="228.80" y="331.85" font-size="5.15" fill="#3a3a3a" stroke="#3a3a3a" stroke-width="0.24" text-anchor="middle">VCC</text>
<polygon points="228.80,336.30 226.80,341.50 230.80,341.50" fill="#fff" stroke="#3a3a3a" stroke-width="0.9"/>
<line x1="228.50" y1="341.50" x2="228.50" y2="400.50" stroke="#3a3a3a" stroke-width="0.8"/>
<polygon points="228.80,345.80 223.80,352.50 233.80,352.50" fill="#151515"/>
<line x1="223.50" y1="345.50" x2="233.50" y2="345.50" stroke="#151515" stroke-width="1.1"/>
<polygon points="228.80,379.50 223.80,386.30 233.80,386.30" fill="#151515"/>
<line x1="223.50" y1="379.50" x2="233.50" y2="379.50" stroke="#151515" stroke-width="1.1"/>
<rect x="225.00" y="399.00" width="7.00" height="2.00" fill="#1a1a1a"/>
<text x="220.00" y="345.65" font-size="5.15" fill="#3a3a3a" stroke="#3a3a3a" stroke-width="0.24" text-anchor="end">D5</text>
<text x="220.00" y="352.35" font-size="5.15" fill="#3a3a3a" stroke="#3a3a3a" stroke-width="0.24" text-anchor="end">1N4148</text>
<text x="222.50" y="384.85" font-size="5.15" fill="#3a3a3a" stroke="#3a3a3a" stroke-width="0.24" text-anchor="end">D7</text>
<text x="221.30" y="393.15" font-size="5.15" fill="#3a3a3a" stroke="#3a3a3a" stroke-width="0.24" text-anchor="end">1N4148</text>
<polyline points="0.50,320.50 0.50,320.50" fill="none" stroke="#3a3a3a" stroke-width="0.8"/>
<text x="249.00" y="384.55" font-size="5.15" fill="#3a3a3a" stroke="#3a3a3a" stroke-width="0.24" text-anchor="end">Vcc</text>
<polygon points="251.30,382.50 257.00,380.50 257.00,384.50" fill="#fff" stroke="#3a3a3a" stroke-width="0.9"/>
<line x1="256.50" y1="382.50" x2="554.50" y2="382.50" stroke="#5a5a60" stroke-width="0.8"/>
<rect x="255.30" y="412.75" width="2.00" height="7.50" fill="#1a1a1a"/>
<line x1="256.50" y1="416.50" x2="554.50" y2="416.50" stroke="#5a5a60" stroke-width="0.8"/>
<line x1="262.50" y1="382.50" x2="262.50" y2="416.50" stroke="#3a3a3a" stroke-width="0.8"/>
<circle cx="262.50" cy="382.50" r="1.0" fill="#222"/>
<circle cx="262.50" cy="416.50" r="1.0" fill="#222"/>
<rect x="259.60" y="392.70" width="6.80" height="13.80" fill="#fff8c2" stroke="#4a4a4a" stroke-width="0.9"/>
<polygon points="266.50,399.50 270.30,397.60 270.30,401.40" fill="#111"/>
<line x1="270.50" y1="399.50" x2="280.50" y2="399.50" stroke="#3a3a3a" stroke-width="0.8"/>
<polygon points="280.00,399.55 285.80,396.10 306.50,396.10 306.50,403.00 285.80,403.00" fill="#fdfce6" stroke="#77774a" stroke-width="0.8"/>
<text x="295.85" y="401.35" font-size="5.1" fill="#66663a" stroke="#55552c" stroke-width="0.2" text-anchor="middle">POT1</text>
<text x="268.60" y="388.35" font-size="5.15" fill="#3a3a3a" stroke="#3a3a3a" stroke-width="0.24" text-anchor="start">P1</text>
<text x="268.60" y="394.45" font-size="5.15" fill="#3a3a3a" stroke="#3a3a3a" stroke-width="0.24" text-anchor="start">10K</text>
<line x1="314.50" y1="382.50" x2="314.50" y2="416.50" stroke="#3a3a3a" stroke-width="0.8"/>
<circle cx="314.50" cy="382.50" r="1.0" fill="#222"/>
<circle cx="314.50" cy="416.50" r="1.0" fill="#222"/>
<rect x="310.80" y="392.70" width="6.80" height="13.80" fill="#fff8c2" stroke="#4a4a4a" stroke-width="0.9"/>
<polygon points="317.70,399.50 321.50,397.60 321.50,401.40" fill="#111"/>
<line x1="321.50" y1="399.50" x2="330.50" y2="399.50" stroke="#3a3a3a" stroke-width="0.8"/>
<polygon points="330.60,399.55 336.40,396.10 357.10,396.10 357.10,403.00 336.40,403.00" fill="#fdfce6" stroke="#77774a" stroke-width="0.8"/>
<text x="346.45" y="401.35" font-size="5.1" fill="#66663a" stroke="#55552c" stroke-width="0.2" text-anchor="middle">POT2</text>
<text x="319.80" y="388.35" font-size="5.15" fill="#3a3a3a" stroke="#3a3a3a" stroke-width="0.24" text-anchor="start">P2</text>
<text x="319.80" y="394.45" font-size="5.15" fill="#3a3a3a" stroke="#3a3a3a" stroke-width="0.24" text-anchor="start">10K</text>
<line x1="364.50" y1="382.50" x2="364.50" y2="416.50" stroke="#3a3a3a" stroke-width="0.8"/>
<circle cx="364.50" cy="382.50" r="1.0" fill="#222"/>
<circle cx="364.50" cy="416.50" r="1.0" fill="#222"/>
<rect x="360.80" y="392.70" width="6.80" height="13.80" fill="#fff8c2" stroke="#4a4a4a" stroke-width="0.9"/>
<polygon points="367.70,399.50 371.50,397.60 371.50,401.40" fill="#111"/>
<line x1="371.50" y1="399.50" x2="378.50" y2="399.50" stroke="#3a3a3a" stroke-width="0.8"/>
<polygon points="378.00,399.55 383.80,396.10 404.50,396.10 404.50,403.00 383.80,403.00" fill="#fdfce6" stroke="#77774a" stroke-width="0.8"/>
<text x="393.85" y="401.35" font-size="5.1" fill="#66663a" stroke="#55552c" stroke-width="0.2" text-anchor="middle">POT3</text>
<text x="369.80" y="388.35" font-size="5.15" fill="#3a3a3a" stroke="#3a3a3a" stroke-width="0.24" text-anchor="start">P3</text>
<text x="369.80" y="394.45" font-size="5.15" fill="#3a3a3a" stroke="#3a3a3a" stroke-width="0.24" text-anchor="start">10K</text>
<line x1="412.50" y1="382.50" x2="412.50" y2="416.50" stroke="#3a3a3a" stroke-width="0.8"/>
<circle cx="412.50" cy="382.50" r="1.0" fill="#222"/>
<circle cx="412.50" cy="416.50" r="1.0" fill="#222"/>
<rect x="408.80" y="392.70" width="6.80" height="13.80" fill="#fff8c2" stroke="#4a4a4a" stroke-width="0.9"/>
<polygon points="415.70,399.50 419.50,397.60 419.50,401.40" fill="#111"/>
<line x1="419.50" y1="399.50" x2="426.50" y2="399.50" stroke="#3a3a3a" stroke-width="0.8"/>
<polygon points="426.00,399.55 431.80,396.10 452.50,396.10 452.50,403.00 431.80,403.00" fill="#fdfce6" stroke="#77774a" stroke-width="0.8"/>
<text x="441.85" y="401.35" font-size="5.1" fill="#66663a" stroke="#55552c" stroke-width="0.2" text-anchor="middle">POT4</text>
<text x="417.80" y="388.35" font-size="5.15" fill="#3a3a3a" stroke="#3a3a3a" stroke-width="0.24" text-anchor="start">P4</text>
<text x="417.80" y="394.45" font-size="5.15" fill="#3a3a3a" stroke="#3a3a3a" stroke-width="0.24" text-anchor="start">10K</text>
<line x1="459.50" y1="382.50" x2="459.50" y2="416.50" stroke="#3a3a3a" stroke-width="0.8"/>
<circle cx="459.50" cy="382.50" r="1.0" fill="#222"/>
<circle cx="459.50" cy="416.50" r="1.0" fill="#222"/>
<rect x="456.00" y="392.70" width="6.80" height="13.80" fill="#fff8c2" stroke="#4a4a4a" stroke-width="0.9"/>
<polygon points="462.90,399.50 466.70,397.60 466.70,401.40" fill="#111"/>
<line x1="466.50" y1="399.50" x2="472.50" y2="399.50" stroke="#3a3a3a" stroke-width="0.8"/>
<polygon points="473.00,399.55 478.80,396.10 499.50,396.10 499.50,403.00 478.80,403.00" fill="#fdfce6" stroke="#77774a" stroke-width="0.8"/>
<text x="488.85" y="401.35" font-size="5.1" fill="#66663a" stroke="#55552c" stroke-width="0.2" text-anchor="middle">POT5</text>
<text x="465.00" y="388.35" font-size="5.15" fill="#3a3a3a" stroke="#3a3a3a" stroke-width="0.24" text-anchor="start">P5</text>
<text x="465.00" y="394.45" font-size="5.15" fill="#3a3a3a" stroke="#3a3a3a" stroke-width="0.24" text-anchor="start">10K</text>
<line x1="506.50" y1="382.50" x2="506.50" y2="416.50" stroke="#3a3a3a" stroke-width="0.8"/>
<circle cx="506.50" cy="382.50" r="1.0" fill="#222"/>
<circle cx="506.50" cy="416.50" r="1.0" fill="#222"/>
<rect x="503.00" y="392.70" width="6.80" height="13.80" fill="#fff8c2" stroke="#4a4a4a" stroke-width="0.9"/>
<polygon points="509.90,399.50 513.70,397.60 513.70,401.40" fill="#111"/>
<line x1="513.50" y1="399.50" x2="520.50" y2="399.50" stroke="#3a3a3a" stroke-width="0.8"/>
<polygon points="520.60,399.55 526.40,396.10 547.10,396.10 547.10,403.00 526.40,403.00" fill="#fdfce6" stroke="#77774a" stroke-width="0.8"/>
<text x="536.45" y="401.35" font-size="5.1" fill="#66663a" stroke="#55552c" stroke-width="0.2" text-anchor="middle">POT6</text>
<text x="512.00" y="388.35" font-size="5.15" fill="#3a3a3a" stroke="#3a3a3a" stroke-width="0.24" text-anchor="start">P6</text>
<text x="512.00" y="394.45" font-size="5.15" fill="#3a3a3a" stroke="#3a3a3a" stroke-width="0.24" text-anchor="start">10K</text>
<line x1="554.50" y1="382.50" x2="554.50" y2="416.50" stroke="#3a3a3a" stroke-width="0.8"/>
<rect x="550.80" y="392.70" width="6.80" height="13.80" fill="#fff" stroke="#4a4a4a" stroke-width="0.9"/>
<polygon points="557.70,399.50 561.50,397.60 561.50,401.40" fill="#111"/>
<line x1="561.50" y1="399.50" x2="570.50" y2="399.50" stroke="#3a3a3a" stroke-width="0.8"/>
<polygon points="571.00,399.55 576.80,396.10 597.50,396.10 597.50,403.00 576.80,403.00" fill="#fdfce6" stroke="#77774a" stroke-width="0.8"/>
<text x="586.85" y="401.35" font-size="5.1" fill="#66663a" stroke="#55552c" stroke-width="0.2" text-anchor="middle">POT7</text>
<text x="559.80" y="388.35" font-size="5.15" fill="#3a3a3a" stroke="#3a3a3a" stroke-width="0.24" text-anchor="start">P7</text>
<text x="559.80" y="394.45" font-size="5.15" fill="#3a3a3a" stroke="#3a3a3a" stroke-width="0.24" text-anchor="start">10K</text>
</g>
</svg>
</body></html>
